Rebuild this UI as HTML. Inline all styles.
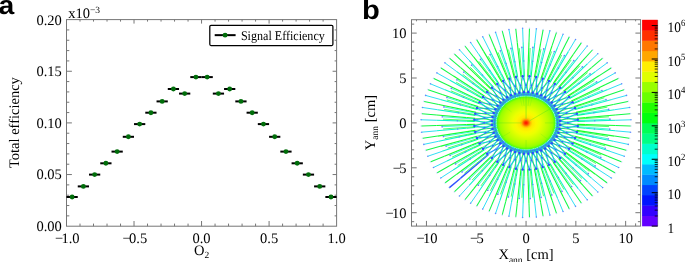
<!DOCTYPE html>
<html><head><meta charset="utf-8"><title>figure</title>
<style>html,body{margin:0;padding:0;background:#fff;}svg{display:block;will-change:transform;}text{text-rendering:geometricPrecision;}</style>
</head><body>
<svg width="685" height="262" viewBox="0 0 685 262">
<rect width="685" height="262" fill="#fff"/>
<g id="panel-a">
<rect x="66.5" y="19.6" width="270.1" height="206.6" fill="none" stroke="#767676" stroke-width="1"/>
<line x1="80" y1="226.2" x2="80" y2="223.6" stroke="#767676" stroke-width="1"/>
<line x1="80" y1="19.6" x2="80" y2="21.6" stroke="#767676" stroke-width="1"/>
<line x1="93.51" y1="226.2" x2="93.51" y2="223.6" stroke="#767676" stroke-width="1"/>
<line x1="93.51" y1="19.6" x2="93.51" y2="21.6" stroke="#767676" stroke-width="1"/>
<line x1="107.02" y1="226.2" x2="107.02" y2="223.6" stroke="#767676" stroke-width="1"/>
<line x1="107.02" y1="19.6" x2="107.02" y2="21.6" stroke="#767676" stroke-width="1"/>
<line x1="120.52" y1="226.2" x2="120.52" y2="223.6" stroke="#767676" stroke-width="1"/>
<line x1="120.52" y1="19.6" x2="120.52" y2="21.6" stroke="#767676" stroke-width="1"/>
<line x1="134.03" y1="226.2" x2="134.03" y2="221" stroke="#767676" stroke-width="1"/>
<line x1="134.03" y1="19.6" x2="134.03" y2="23.6" stroke="#767676" stroke-width="1"/>
<line x1="147.53" y1="226.2" x2="147.53" y2="223.6" stroke="#767676" stroke-width="1"/>
<line x1="147.53" y1="19.6" x2="147.53" y2="21.6" stroke="#767676" stroke-width="1"/>
<line x1="161.04" y1="226.2" x2="161.04" y2="223.6" stroke="#767676" stroke-width="1"/>
<line x1="161.04" y1="19.6" x2="161.04" y2="21.6" stroke="#767676" stroke-width="1"/>
<line x1="174.54" y1="226.2" x2="174.54" y2="223.6" stroke="#767676" stroke-width="1"/>
<line x1="174.54" y1="19.6" x2="174.54" y2="21.6" stroke="#767676" stroke-width="1"/>
<line x1="188.05" y1="226.2" x2="188.05" y2="223.6" stroke="#767676" stroke-width="1"/>
<line x1="188.05" y1="19.6" x2="188.05" y2="21.6" stroke="#767676" stroke-width="1"/>
<line x1="201.55" y1="226.2" x2="201.55" y2="221" stroke="#767676" stroke-width="1"/>
<line x1="201.55" y1="19.6" x2="201.55" y2="23.6" stroke="#767676" stroke-width="1"/>
<line x1="215.06" y1="226.2" x2="215.06" y2="223.6" stroke="#767676" stroke-width="1"/>
<line x1="215.06" y1="19.6" x2="215.06" y2="21.6" stroke="#767676" stroke-width="1"/>
<line x1="228.56" y1="226.2" x2="228.56" y2="223.6" stroke="#767676" stroke-width="1"/>
<line x1="228.56" y1="19.6" x2="228.56" y2="21.6" stroke="#767676" stroke-width="1"/>
<line x1="242.07" y1="226.2" x2="242.07" y2="223.6" stroke="#767676" stroke-width="1"/>
<line x1="242.07" y1="19.6" x2="242.07" y2="21.6" stroke="#767676" stroke-width="1"/>
<line x1="255.57" y1="226.2" x2="255.57" y2="223.6" stroke="#767676" stroke-width="1"/>
<line x1="255.57" y1="19.6" x2="255.57" y2="21.6" stroke="#767676" stroke-width="1"/>
<line x1="269.08" y1="226.2" x2="269.08" y2="221" stroke="#767676" stroke-width="1"/>
<line x1="269.08" y1="19.6" x2="269.08" y2="23.6" stroke="#767676" stroke-width="1"/>
<line x1="282.58" y1="226.2" x2="282.58" y2="223.6" stroke="#767676" stroke-width="1"/>
<line x1="282.58" y1="19.6" x2="282.58" y2="21.6" stroke="#767676" stroke-width="1"/>
<line x1="296.09" y1="226.2" x2="296.09" y2="223.6" stroke="#767676" stroke-width="1"/>
<line x1="296.09" y1="19.6" x2="296.09" y2="21.6" stroke="#767676" stroke-width="1"/>
<line x1="309.59" y1="226.2" x2="309.59" y2="223.6" stroke="#767676" stroke-width="1"/>
<line x1="309.59" y1="19.6" x2="309.59" y2="21.6" stroke="#767676" stroke-width="1"/>
<line x1="323.1" y1="226.2" x2="323.1" y2="223.6" stroke="#767676" stroke-width="1"/>
<line x1="323.1" y1="19.6" x2="323.1" y2="21.6" stroke="#767676" stroke-width="1"/>
<line x1="66.5" y1="215.87" x2="69.3" y2="215.87" stroke="#767676" stroke-width="1"/>
<line x1="336.6" y1="215.87" x2="334.6" y2="215.87" stroke="#767676" stroke-width="1"/>
<line x1="66.5" y1="205.54" x2="69.3" y2="205.54" stroke="#767676" stroke-width="1"/>
<line x1="336.6" y1="205.54" x2="334.6" y2="205.54" stroke="#767676" stroke-width="1"/>
<line x1="66.5" y1="195.21" x2="69.3" y2="195.21" stroke="#767676" stroke-width="1"/>
<line x1="336.6" y1="195.21" x2="334.6" y2="195.21" stroke="#767676" stroke-width="1"/>
<line x1="66.5" y1="184.88" x2="69.3" y2="184.88" stroke="#767676" stroke-width="1"/>
<line x1="336.6" y1="184.88" x2="334.6" y2="184.88" stroke="#767676" stroke-width="1"/>
<line x1="66.5" y1="174.55" x2="71.9" y2="174.55" stroke="#767676" stroke-width="1"/>
<line x1="336.6" y1="174.55" x2="332.6" y2="174.55" stroke="#767676" stroke-width="1"/>
<line x1="66.5" y1="164.22" x2="69.3" y2="164.22" stroke="#767676" stroke-width="1"/>
<line x1="336.6" y1="164.22" x2="334.6" y2="164.22" stroke="#767676" stroke-width="1"/>
<line x1="66.5" y1="153.89" x2="69.3" y2="153.89" stroke="#767676" stroke-width="1"/>
<line x1="336.6" y1="153.89" x2="334.6" y2="153.89" stroke="#767676" stroke-width="1"/>
<line x1="66.5" y1="143.56" x2="69.3" y2="143.56" stroke="#767676" stroke-width="1"/>
<line x1="336.6" y1="143.56" x2="334.6" y2="143.56" stroke="#767676" stroke-width="1"/>
<line x1="66.5" y1="133.23" x2="69.3" y2="133.23" stroke="#767676" stroke-width="1"/>
<line x1="336.6" y1="133.23" x2="334.6" y2="133.23" stroke="#767676" stroke-width="1"/>
<line x1="66.5" y1="122.9" x2="71.9" y2="122.9" stroke="#767676" stroke-width="1"/>
<line x1="336.6" y1="122.9" x2="332.6" y2="122.9" stroke="#767676" stroke-width="1"/>
<line x1="66.5" y1="112.57" x2="69.3" y2="112.57" stroke="#767676" stroke-width="1"/>
<line x1="336.6" y1="112.57" x2="334.6" y2="112.57" stroke="#767676" stroke-width="1"/>
<line x1="66.5" y1="102.24" x2="69.3" y2="102.24" stroke="#767676" stroke-width="1"/>
<line x1="336.6" y1="102.24" x2="334.6" y2="102.24" stroke="#767676" stroke-width="1"/>
<line x1="66.5" y1="91.91" x2="69.3" y2="91.91" stroke="#767676" stroke-width="1"/>
<line x1="336.6" y1="91.91" x2="334.6" y2="91.91" stroke="#767676" stroke-width="1"/>
<line x1="66.5" y1="81.58" x2="69.3" y2="81.58" stroke="#767676" stroke-width="1"/>
<line x1="336.6" y1="81.58" x2="334.6" y2="81.58" stroke="#767676" stroke-width="1"/>
<line x1="66.5" y1="71.25" x2="71.9" y2="71.25" stroke="#767676" stroke-width="1"/>
<line x1="336.6" y1="71.25" x2="332.6" y2="71.25" stroke="#767676" stroke-width="1"/>
<line x1="66.5" y1="60.92" x2="69.3" y2="60.92" stroke="#767676" stroke-width="1"/>
<line x1="336.6" y1="60.92" x2="334.6" y2="60.92" stroke="#767676" stroke-width="1"/>
<line x1="66.5" y1="50.59" x2="69.3" y2="50.59" stroke="#767676" stroke-width="1"/>
<line x1="336.6" y1="50.59" x2="334.6" y2="50.59" stroke="#767676" stroke-width="1"/>
<line x1="66.5" y1="40.26" x2="69.3" y2="40.26" stroke="#767676" stroke-width="1"/>
<line x1="336.6" y1="40.26" x2="334.6" y2="40.26" stroke="#767676" stroke-width="1"/>
<line x1="66.5" y1="29.93" x2="69.3" y2="29.93" stroke="#767676" stroke-width="1"/>
<line x1="336.6" y1="29.93" x2="334.6" y2="29.93" stroke="#767676" stroke-width="1"/>
<text transform="translate(67.3,243.4) scale(1.000,1)" font-size="14.5" text-anchor="middle" font-family='"Liberation Serif", serif'>−<tspan dx="-1.7">1.0</tspan></text>
<text transform="translate(134.83,243.4) scale(1.000,1)" font-size="14.5" text-anchor="middle" font-family='"Liberation Serif", serif'>−<tspan dx="-1.7">0.5</tspan></text>
<text transform="translate(201.55,243.4) scale(1.000,1)" font-size="14.5" text-anchor="middle" font-family='"Liberation Serif", serif'>0.0</text>
<text transform="translate(269.08,243.4) scale(1.000,1)" font-size="14.5" text-anchor="middle" font-family='"Liberation Serif", serif'>0.5</text>
<text transform="translate(336.6,243.4) scale(1.000,1)" font-size="14.5" text-anchor="middle" font-family='"Liberation Serif", serif'>1.0</text>
<text transform="translate(61.8,231.1) scale(1.000,1)" font-size="14.5" text-anchor="end" font-family='"Liberation Serif", serif'>0.00</text>
<text transform="translate(61.8,179.45) scale(1.000,1)" font-size="14.5" text-anchor="end" font-family='"Liberation Serif", serif'>0.05</text>
<text transform="translate(61.8,127.8) scale(1.000,1)" font-size="14.5" text-anchor="end" font-family='"Liberation Serif", serif'>0.10</text>
<text transform="translate(61.8,76.15) scale(1.000,1)" font-size="14.5" text-anchor="end" font-family='"Liberation Serif", serif'>0.15</text>
<text transform="translate(61.8,24.5) scale(1.000,1)" font-size="14.5" text-anchor="end" font-family='"Liberation Serif", serif'>0.20</text>
<text x="68.2" y="17.9" font-size="14.5" font-family='"Liberation Serif", serif'>x10<tspan font-size="9.5" dy="-5.2">−3</tspan></text>
<text x="201.6" y="254.5" font-size="14.5" text-anchor="middle" font-family='"Liberation Serif", serif'>O<tspan font-size="9.5" dy="3.6">2</tspan></text>
<text transform="translate(18.6,122.6) rotate(-90)" font-size="14.5" text-anchor="middle" font-family='"Liberation Serif", serif'>Total efficiency</text>
<line x1="66.5" y1="197" x2="77.75" y2="197" stroke="#000" stroke-width="2"/>
<line x1="77.75" y1="186.4" x2="89.01" y2="186.4" stroke="#000" stroke-width="2"/>
<line x1="89.01" y1="174.6" x2="100.26" y2="174.6" stroke="#000" stroke-width="2"/>
<line x1="100.26" y1="163.3" x2="111.52" y2="163.3" stroke="#000" stroke-width="2"/>
<line x1="111.52" y1="151.6" x2="122.77" y2="151.6" stroke="#000" stroke-width="2"/>
<line x1="122.77" y1="136.8" x2="134.03" y2="136.8" stroke="#000" stroke-width="2"/>
<line x1="134.03" y1="124.1" x2="145.28" y2="124.1" stroke="#000" stroke-width="2"/>
<line x1="145.28" y1="112.7" x2="156.53" y2="112.7" stroke="#000" stroke-width="2"/>
<line x1="156.53" y1="101.4" x2="167.79" y2="101.4" stroke="#000" stroke-width="2"/>
<line x1="167.79" y1="89" x2="179.04" y2="89" stroke="#000" stroke-width="2"/>
<line x1="179.04" y1="93.6" x2="190.3" y2="93.6" stroke="#000" stroke-width="2"/>
<line x1="190.3" y1="77.1" x2="201.55" y2="77.1" stroke="#000" stroke-width="2"/>
<line x1="201.55" y1="77.1" x2="212.8" y2="77.1" stroke="#000" stroke-width="2"/>
<line x1="212.8" y1="93.6" x2="224.06" y2="93.6" stroke="#000" stroke-width="2"/>
<line x1="224.06" y1="89" x2="235.31" y2="89" stroke="#000" stroke-width="2"/>
<line x1="235.31" y1="101.4" x2="246.57" y2="101.4" stroke="#000" stroke-width="2"/>
<line x1="246.57" y1="112.7" x2="257.82" y2="112.7" stroke="#000" stroke-width="2"/>
<line x1="257.82" y1="124.1" x2="269.08" y2="124.1" stroke="#000" stroke-width="2"/>
<line x1="269.07" y1="136.8" x2="280.33" y2="136.8" stroke="#000" stroke-width="2"/>
<line x1="280.33" y1="151.6" x2="291.58" y2="151.6" stroke="#000" stroke-width="2"/>
<line x1="291.58" y1="163.3" x2="302.84" y2="163.3" stroke="#000" stroke-width="2"/>
<line x1="302.84" y1="174.6" x2="314.09" y2="174.6" stroke="#000" stroke-width="2"/>
<line x1="314.09" y1="186.4" x2="325.35" y2="186.4" stroke="#000" stroke-width="2"/>
<line x1="325.35" y1="197" x2="336.6" y2="197" stroke="#000" stroke-width="2"/>
<circle cx="72.13" cy="197" r="2.45" fill="#006d0a"/>
<circle cx="83.38" cy="186.4" r="2.45" fill="#006d0a"/>
<circle cx="94.64" cy="174.6" r="2.45" fill="#006d0a"/>
<circle cx="105.89" cy="163.3" r="2.45" fill="#006d0a"/>
<circle cx="117.14" cy="151.6" r="2.45" fill="#006d0a"/>
<circle cx="128.4" cy="136.8" r="2.45" fill="#006d0a"/>
<circle cx="139.65" cy="124.1" r="2.45" fill="#006d0a"/>
<circle cx="150.91" cy="112.7" r="2.45" fill="#006d0a"/>
<circle cx="162.16" cy="101.4" r="2.45" fill="#006d0a"/>
<circle cx="173.41" cy="89" r="2.45" fill="#006d0a"/>
<circle cx="184.67" cy="93.6" r="2.45" fill="#006d0a"/>
<circle cx="195.92" cy="77.1" r="2.45" fill="#006d0a"/>
<circle cx="207.18" cy="77.1" r="2.45" fill="#006d0a"/>
<circle cx="218.43" cy="93.6" r="2.45" fill="#006d0a"/>
<circle cx="229.69" cy="89" r="2.45" fill="#006d0a"/>
<circle cx="240.94" cy="101.4" r="2.45" fill="#006d0a"/>
<circle cx="252.19" cy="112.7" r="2.45" fill="#006d0a"/>
<circle cx="263.45" cy="124.1" r="2.45" fill="#006d0a"/>
<circle cx="274.7" cy="136.8" r="2.45" fill="#006d0a"/>
<circle cx="285.96" cy="151.6" r="2.45" fill="#006d0a"/>
<circle cx="297.21" cy="163.3" r="2.45" fill="#006d0a"/>
<circle cx="308.46" cy="174.6" r="2.45" fill="#006d0a"/>
<circle cx="319.72" cy="186.4" r="2.45" fill="#006d0a"/>
<circle cx="330.97" cy="197" r="2.45" fill="#006d0a"/>
<rect x="209.8" y="25.3" width="123.1" height="20.2" rx="1.2" fill="#fff" stroke="#000" stroke-width="1.25"/>
<line x1="214.7" y1="35.15" x2="235.6" y2="35.15" stroke="#000" stroke-width="2"/>
<circle cx="225.1" cy="35.15" r="2.45" fill="#006d0a"/>
<text transform="translate(240.9,39.5) scale(0.915,1)" font-size="13.2" text-anchor="start" font-family='"Liberation Serif", serif'>Signal Efficiency</text>
<text transform="translate(-1.5,13.75) scale(1.090,1)" font-size="26" text-anchor="start" font-family='"Liberation Sans", sans-serif' font-weight="bold">a</text>
</g>
<g id="panel-b">
<defs>
<radialGradient id="disc" cx="0.5" cy="0.5" r="0.5">
<stop offset="0" stop-color="#ff1200"/>
<stop offset="0.04" stop-color="#ff2800"/>
<stop offset="0.08" stop-color="#ff5a00"/>
<stop offset="0.12" stop-color="#ff9000"/>
<stop offset="0.16" stop-color="#ffc400"/>
<stop offset="0.22" stop-color="#ffe800"/>
<stop offset="0.34" stop-color="#fbf800"/>
<stop offset="0.46" stop-color="#ecff00"/>
<stop offset="0.6" stop-color="#d4ff00"/>
<stop offset="0.76" stop-color="#b8ff00"/>
<stop offset="0.9" stop-color="#98ff00"/>
<stop offset="0.96" stop-color="#66ff08"/>
<stop offset="1.0" stop-color="#20ff48"/>
</radialGradient>
<clipPath id="bclip"><rect x="411.5" y="19.7" width="229.1" height="206.4"/></clipPath>
</defs>
<g clip-path="url(#bclip)" stroke-linecap="butt">
<line x1="560.14" y1="120.89" x2="577.73" y2="125.95" stroke="#22b8f4" stroke-width="1.1"/>
<line x1="560.14" y1="120.89" x2="576.85" y2="113.79" stroke="#2a9cff" stroke-width="1.1"/>
<line x1="559.56" y1="116.89" x2="577.73" y2="119.85" stroke="#22b8f4" stroke-width="1.1"/>
<line x1="559.56" y1="116.89" x2="575.09" y2="107.89" stroke="#2a9cff" stroke-width="1.1"/>
<line x1="558.4" y1="113" x2="576.85" y2="113.79" stroke="#22b8f4" stroke-width="1.1"/>
<line x1="558.4" y1="113" x2="572.5" y2="102.25" stroke="#2a9cff" stroke-width="1.1"/>
<line x1="556.69" y1="109.28" x2="575.09" y2="107.89" stroke="#22b8f4" stroke-width="1.1"/>
<line x1="556.69" y1="109.28" x2="569.11" y2="96.96" stroke="#2a9cff" stroke-width="1.1"/>
<line x1="554.46" y1="105.79" x2="572.5" y2="102.25" stroke="#22b8f4" stroke-width="1.1"/>
<line x1="554.46" y1="105.79" x2="564.99" y2="92.11" stroke="#2a9cff" stroke-width="1.1"/>
<line x1="551.73" y1="102.59" x2="569.11" y2="96.96" stroke="#22b8f4" stroke-width="1.1"/>
<line x1="551.73" y1="102.59" x2="560.2" y2="87.79" stroke="#2a9cff" stroke-width="1.1"/>
<line x1="548.58" y1="99.74" x2="564.99" y2="92.11" stroke="#22b8f4" stroke-width="1.1"/>
<line x1="548.58" y1="99.74" x2="554.82" y2="84.07" stroke="#2a9cff" stroke-width="1.1"/>
<line x1="545.03" y1="97.29" x2="560.2" y2="87.79" stroke="#22b8f4" stroke-width="1.1"/>
<line x1="545.03" y1="97.29" x2="548.96" y2="81.02" stroke="#2a9cff" stroke-width="1.1"/>
<line x1="541.16" y1="95.28" x2="554.82" y2="84.07" stroke="#22b8f4" stroke-width="1.1"/>
<line x1="541.16" y1="95.28" x2="542.7" y2="78.68" stroke="#2a9cff" stroke-width="1.1"/>
<line x1="537.03" y1="93.73" x2="548.96" y2="81.02" stroke="#22b8f4" stroke-width="1.1"/>
<line x1="537.03" y1="93.73" x2="536.15" y2="77.1" stroke="#2a9cff" stroke-width="1.1"/>
<line x1="532.71" y1="92.69" x2="542.7" y2="78.68" stroke="#22b8f4" stroke-width="1.1"/>
<line x1="532.71" y1="92.69" x2="529.44" y2="76.3" stroke="#2a9cff" stroke-width="1.1"/>
<line x1="528.28" y1="92.16" x2="536.15" y2="77.1" stroke="#22b8f4" stroke-width="1.1"/>
<line x1="528.28" y1="92.16" x2="522.66" y2="76.3" stroke="#2a9cff" stroke-width="1.1"/>
<line x1="523.82" y1="92.16" x2="529.44" y2="76.3" stroke="#22b8f4" stroke-width="1.1"/>
<line x1="523.82" y1="92.16" x2="515.95" y2="77.1" stroke="#2a9cff" stroke-width="1.1"/>
<line x1="519.39" y1="92.69" x2="522.66" y2="76.3" stroke="#22b8f4" stroke-width="1.1"/>
<line x1="519.39" y1="92.69" x2="509.4" y2="78.68" stroke="#2a9cff" stroke-width="1.1"/>
<line x1="515.07" y1="93.73" x2="515.95" y2="77.1" stroke="#22b8f4" stroke-width="1.1"/>
<line x1="515.07" y1="93.73" x2="503.14" y2="81.02" stroke="#2a9cff" stroke-width="1.1"/>
<line x1="510.94" y1="95.28" x2="509.4" y2="78.68" stroke="#22b8f4" stroke-width="1.1"/>
<line x1="510.94" y1="95.28" x2="497.28" y2="84.07" stroke="#2a9cff" stroke-width="1.1"/>
<line x1="507.07" y1="97.29" x2="503.14" y2="81.02" stroke="#22b8f4" stroke-width="1.1"/>
<line x1="507.07" y1="97.29" x2="491.9" y2="87.79" stroke="#2a9cff" stroke-width="1.1"/>
<line x1="503.52" y1="99.74" x2="497.28" y2="84.07" stroke="#22b8f4" stroke-width="1.1"/>
<line x1="503.52" y1="99.74" x2="487.11" y2="92.11" stroke="#2a9cff" stroke-width="1.1"/>
<line x1="500.37" y1="102.59" x2="491.9" y2="87.79" stroke="#22b8f4" stroke-width="1.1"/>
<line x1="500.37" y1="102.59" x2="482.99" y2="96.96" stroke="#2a9cff" stroke-width="1.1"/>
<line x1="497.64" y1="105.79" x2="487.11" y2="92.11" stroke="#22b8f4" stroke-width="1.1"/>
<line x1="497.64" y1="105.79" x2="479.6" y2="102.25" stroke="#2a9cff" stroke-width="1.1"/>
<line x1="495.41" y1="109.28" x2="482.99" y2="96.96" stroke="#22b8f4" stroke-width="1.1"/>
<line x1="495.41" y1="109.28" x2="477.01" y2="107.89" stroke="#2a9cff" stroke-width="1.1"/>
<line x1="493.7" y1="113" x2="479.6" y2="102.25" stroke="#22b8f4" stroke-width="1.1"/>
<line x1="493.7" y1="113" x2="475.25" y2="113.79" stroke="#2a9cff" stroke-width="1.1"/>
<line x1="492.54" y1="116.89" x2="477.01" y2="107.89" stroke="#22b8f4" stroke-width="1.1"/>
<line x1="492.54" y1="116.89" x2="474.37" y2="119.85" stroke="#2a9cff" stroke-width="1.1"/>
<line x1="491.96" y1="120.89" x2="475.25" y2="113.79" stroke="#22b8f4" stroke-width="1.1"/>
<line x1="491.96" y1="120.89" x2="474.37" y2="125.95" stroke="#2a9cff" stroke-width="1.1"/>
<line x1="491.96" y1="124.91" x2="474.37" y2="119.85" stroke="#22b8f4" stroke-width="1.1"/>
<line x1="491.96" y1="124.91" x2="475.25" y2="132.01" stroke="#2a9cff" stroke-width="1.1"/>
<line x1="492.54" y1="128.91" x2="474.37" y2="125.95" stroke="#22b8f4" stroke-width="1.1"/>
<line x1="492.54" y1="128.91" x2="477.01" y2="137.91" stroke="#2a9cff" stroke-width="1.1"/>
<line x1="493.7" y1="132.8" x2="475.25" y2="132.01" stroke="#22b8f4" stroke-width="1.1"/>
<line x1="493.7" y1="132.8" x2="479.6" y2="143.55" stroke="#2a9cff" stroke-width="1.1"/>
<line x1="495.41" y1="136.52" x2="477.01" y2="137.91" stroke="#22b8f4" stroke-width="1.1"/>
<line x1="495.41" y1="136.52" x2="482.99" y2="148.84" stroke="#2a9cff" stroke-width="1.1"/>
<line x1="497.64" y1="140.01" x2="479.6" y2="143.55" stroke="#22b8f4" stroke-width="1.1"/>
<line x1="497.64" y1="140.01" x2="487.11" y2="153.69" stroke="#2a9cff" stroke-width="1.1"/>
<line x1="500.37" y1="143.21" x2="482.99" y2="148.84" stroke="#22b8f4" stroke-width="1.1"/>
<line x1="500.37" y1="143.21" x2="491.9" y2="158.01" stroke="#2a9cff" stroke-width="1.1"/>
<line x1="503.52" y1="146.06" x2="487.11" y2="153.69" stroke="#22b8f4" stroke-width="1.1"/>
<line x1="503.52" y1="146.06" x2="497.28" y2="161.73" stroke="#2a9cff" stroke-width="1.1"/>
<line x1="507.07" y1="148.51" x2="491.9" y2="158.01" stroke="#22b8f4" stroke-width="1.1"/>
<line x1="507.07" y1="148.51" x2="503.14" y2="164.78" stroke="#2a9cff" stroke-width="1.1"/>
<line x1="510.94" y1="150.52" x2="497.28" y2="161.73" stroke="#22b8f4" stroke-width="1.1"/>
<line x1="510.94" y1="150.52" x2="509.4" y2="167.12" stroke="#2a9cff" stroke-width="1.1"/>
<line x1="515.07" y1="152.07" x2="503.14" y2="164.78" stroke="#22b8f4" stroke-width="1.1"/>
<line x1="515.07" y1="152.07" x2="515.95" y2="168.7" stroke="#2a9cff" stroke-width="1.1"/>
<line x1="519.39" y1="153.11" x2="509.4" y2="167.12" stroke="#22b8f4" stroke-width="1.1"/>
<line x1="519.39" y1="153.11" x2="522.66" y2="169.5" stroke="#2a9cff" stroke-width="1.1"/>
<line x1="523.82" y1="153.64" x2="515.95" y2="168.7" stroke="#22b8f4" stroke-width="1.1"/>
<line x1="523.82" y1="153.64" x2="529.44" y2="169.5" stroke="#2a9cff" stroke-width="1.1"/>
<line x1="528.28" y1="153.64" x2="522.66" y2="169.5" stroke="#22b8f4" stroke-width="1.1"/>
<line x1="528.28" y1="153.64" x2="536.15" y2="168.7" stroke="#2a9cff" stroke-width="1.1"/>
<line x1="532.71" y1="153.11" x2="529.44" y2="169.5" stroke="#22b8f4" stroke-width="1.1"/>
<line x1="532.71" y1="153.11" x2="542.7" y2="167.12" stroke="#2a9cff" stroke-width="1.1"/>
<line x1="537.03" y1="152.07" x2="536.15" y2="168.7" stroke="#22b8f4" stroke-width="1.1"/>
<line x1="537.03" y1="152.07" x2="548.96" y2="164.78" stroke="#2a9cff" stroke-width="1.1"/>
<line x1="541.16" y1="150.52" x2="542.7" y2="167.12" stroke="#22b8f4" stroke-width="1.1"/>
<line x1="541.16" y1="150.52" x2="554.82" y2="161.73" stroke="#2a9cff" stroke-width="1.1"/>
<line x1="545.03" y1="148.51" x2="548.96" y2="164.78" stroke="#22b8f4" stroke-width="1.1"/>
<line x1="545.03" y1="148.51" x2="560.2" y2="158.01" stroke="#2a9cff" stroke-width="1.1"/>
<line x1="548.58" y1="146.06" x2="554.82" y2="161.73" stroke="#22b8f4" stroke-width="1.1"/>
<line x1="548.58" y1="146.06" x2="564.99" y2="153.69" stroke="#2a9cff" stroke-width="1.1"/>
<line x1="551.73" y1="143.21" x2="560.2" y2="158.01" stroke="#22b8f4" stroke-width="1.1"/>
<line x1="551.73" y1="143.21" x2="569.11" y2="148.84" stroke="#2a9cff" stroke-width="1.1"/>
<line x1="554.46" y1="140.01" x2="564.99" y2="153.69" stroke="#22b8f4" stroke-width="1.1"/>
<line x1="554.46" y1="140.01" x2="572.5" y2="143.55" stroke="#2a9cff" stroke-width="1.1"/>
<line x1="556.69" y1="136.52" x2="569.11" y2="148.84" stroke="#22b8f4" stroke-width="1.1"/>
<line x1="556.69" y1="136.52" x2="575.09" y2="137.91" stroke="#2a9cff" stroke-width="1.1"/>
<line x1="558.4" y1="132.8" x2="572.5" y2="143.55" stroke="#22b8f4" stroke-width="1.1"/>
<line x1="558.4" y1="132.8" x2="576.85" y2="132.01" stroke="#2a9cff" stroke-width="1.1"/>
<line x1="559.56" y1="128.91" x2="575.09" y2="137.91" stroke="#22b8f4" stroke-width="1.1"/>
<line x1="559.56" y1="128.91" x2="577.73" y2="125.95" stroke="#2a9cff" stroke-width="1.1"/>
<line x1="560.14" y1="124.91" x2="576.85" y2="132.01" stroke="#22b8f4" stroke-width="1.1"/>
<line x1="560.14" y1="124.91" x2="577.73" y2="119.85" stroke="#2a9cff" stroke-width="1.1"/>
<ellipse cx="526.05" cy="122.9" rx="31.87" ry="28.74" fill="none" stroke="#28a8fa" stroke-width="3.8" opacity="0.9"/>
<line x1="555.42" y1="122.03" x2="577.32" y2="121.39" stroke="#00ff90" stroke-width="0.8" opacity="0.8"/>
<line x1="577.32" y1="121.39" x2="585.78" y2="121.14" stroke="#00ff90" stroke-width="1.05"/>
<line x1="585.78" y1="121.14" x2="615.64" y2="120.26" stroke="#10f4cc" stroke-width="1.05"/>
<line x1="615.64" y1="120.26" x2="630.57" y2="119.81" stroke="#26dcf4" stroke-width="0.95"/>
<circle cx="630.97" cy="119.8" r="0.8" fill="#4a78ff" opacity="0.85"/>
<line x1="555.29" y1="120.3" x2="577.1" y2="118.37" stroke="#1cff1c" stroke-width="0.8" opacity="0.8"/>
<line x1="577.1" y1="118.37" x2="585.52" y2="117.62" stroke="#1cff1c" stroke-width="1.15"/>
<line x1="585.52" y1="117.62" x2="615.26" y2="114.98" stroke="#16ff34" stroke-width="1.15"/>
<line x1="615.26" y1="114.98" x2="630.13" y2="113.66" stroke="#12f848" stroke-width="1.05"/>
<circle cx="630.52" cy="113.62" r="0.8" fill="#4a78ff" opacity="0.25"/>
<line x1="555.04" y1="118.58" x2="576.66" y2="115.37" stroke="#00ff90" stroke-width="0.8" opacity="0.8"/>
<line x1="576.66" y1="115.37" x2="585.01" y2="114.12" stroke="#00ff90" stroke-width="1.05"/>
<line x1="585.01" y1="114.12" x2="614.49" y2="109.73" stroke="#10f4cc" stroke-width="1.05"/>
<line x1="614.49" y1="109.73" x2="629.23" y2="107.54" stroke="#26dcf4" stroke-width="0.95"/>
<circle cx="629.63" cy="107.48" r="0.8" fill="#4a78ff" opacity="0.85"/>
<line x1="554.66" y1="116.88" x2="576" y2="112.4" stroke="#1cff1c" stroke-width="0.8" opacity="0.8"/>
<line x1="576" y1="112.4" x2="584.25" y2="110.67" stroke="#1cff1c" stroke-width="1.15"/>
<line x1="584.25" y1="110.67" x2="613.35" y2="104.55" stroke="#16ff34" stroke-width="1.15"/>
<line x1="613.35" y1="104.55" x2="627.9" y2="101.49" stroke="#12f848" stroke-width="1.05"/>
<circle cx="628.29" cy="101.41" r="0.8" fill="#4a78ff" opacity="0.25"/>
<line x1="554.17" y1="115.21" x2="575.14" y2="109.48" stroke="#00ff90" stroke-width="0.8" opacity="0.8"/>
<line x1="575.14" y1="109.48" x2="583.24" y2="107.26" stroke="#00ff90" stroke-width="1.05"/>
<line x1="583.24" y1="107.26" x2="611.83" y2="99.44" stroke="#10f4cc" stroke-width="1.05"/>
<line x1="611.83" y1="99.44" x2="626.13" y2="95.53" stroke="#26dcf4" stroke-width="0.95"/>
<circle cx="626.51" cy="95.42" r="0.8" fill="#4a78ff" opacity="0.85"/>
<line x1="553.55" y1="113.57" x2="574.06" y2="106.61" stroke="#1cff1c" stroke-width="0.8" opacity="0.8"/>
<line x1="574.06" y1="106.61" x2="581.98" y2="103.92" stroke="#1cff1c" stroke-width="1.15"/>
<line x1="581.98" y1="103.92" x2="609.94" y2="94.43" stroke="#16ff34" stroke-width="1.15"/>
<line x1="609.94" y1="94.43" x2="623.93" y2="89.69" stroke="#12f848" stroke-width="1.05"/>
<circle cx="624.3" cy="89.56" r="0.8" fill="#4a78ff" opacity="0.25"/>
<line x1="552.81" y1="111.97" x2="572.77" y2="103.81" stroke="#00ff90" stroke-width="0.8" opacity="0.8"/>
<line x1="572.77" y1="103.81" x2="580.48" y2="100.66" stroke="#00ff90" stroke-width="1.05"/>
<line x1="580.48" y1="100.66" x2="607.7" y2="89.55" stroke="#10f4cc" stroke-width="1.05"/>
<line x1="607.7" y1="89.55" x2="621.31" y2="83.99" stroke="#26dcf4" stroke-width="0.95"/>
<circle cx="621.67" cy="83.84" r="0.8" fill="#4a78ff" opacity="0.85"/>
<line x1="551.96" y1="110.41" x2="571.29" y2="101.1" stroke="#1cff1c" stroke-width="0.8" opacity="0.8"/>
<line x1="571.29" y1="101.1" x2="578.75" y2="97.5" stroke="#1cff1c" stroke-width="1.15"/>
<line x1="578.75" y1="97.5" x2="605.11" y2="84.8" stroke="#16ff34" stroke-width="1.15"/>
<line x1="605.11" y1="84.8" x2="618.28" y2="78.45" stroke="#12f848" stroke-width="1.05"/>
<circle cx="618.63" cy="78.28" r="0.8" fill="#4a78ff" opacity="0.25"/>
<line x1="551" y1="108.91" x2="569.61" y2="98.48" stroke="#00ff90" stroke-width="0.8" opacity="0.8"/>
<line x1="569.61" y1="98.48" x2="576.8" y2="94.45" stroke="#00ff90" stroke-width="1.05"/>
<line x1="576.8" y1="94.45" x2="602.17" y2="80.22" stroke="#10f4cc" stroke-width="1.05"/>
<line x1="602.17" y1="80.22" x2="614.86" y2="73.11" stroke="#26dcf4" stroke-width="0.95"/>
<circle cx="615.2" cy="72.92" r="0.8" fill="#4a78ff" opacity="0.85"/>
<line x1="549.93" y1="107.47" x2="567.74" y2="95.96" stroke="#1cff1c" stroke-width="0.8" opacity="0.8"/>
<line x1="567.74" y1="95.96" x2="574.63" y2="91.52" stroke="#1cff1c" stroke-width="1.15"/>
<line x1="574.63" y1="91.52" x2="598.91" y2="75.82" stroke="#16ff34" stroke-width="1.15"/>
<line x1="598.91" y1="75.82" x2="611.06" y2="67.98" stroke="#12f848" stroke-width="1.05"/>
<circle cx="611.38" cy="67.77" r="0.8" fill="#4a78ff" opacity="0.25"/>
<line x1="548.76" y1="106.09" x2="565.7" y2="93.56" stroke="#00ff90" stroke-width="0.8" opacity="0.8"/>
<line x1="565.7" y1="93.56" x2="572.25" y2="88.72" stroke="#00ff90" stroke-width="1.05"/>
<line x1="572.25" y1="88.72" x2="595.34" y2="71.63" stroke="#10f4cc" stroke-width="1.05"/>
<line x1="595.34" y1="71.63" x2="606.89" y2="63.08" stroke="#26dcf4" stroke-width="0.95"/>
<circle cx="607.2" cy="62.86" r="0.8" fill="#4a78ff" opacity="0.85"/>
<line x1="547.49" y1="104.79" x2="563.49" y2="91.29" stroke="#1cff1c" stroke-width="0.8" opacity="0.8"/>
<line x1="563.49" y1="91.29" x2="569.67" y2="86.07" stroke="#1cff1c" stroke-width="1.15"/>
<line x1="569.67" y1="86.07" x2="591.48" y2="67.65" stroke="#16ff34" stroke-width="1.15"/>
<line x1="591.48" y1="67.65" x2="602.38" y2="58.44" stroke="#12f848" stroke-width="1.05"/>
<circle cx="602.67" cy="58.2" r="0.8" fill="#4a78ff" opacity="0.25"/>
<line x1="546.14" y1="103.57" x2="561.11" y2="89.15" stroke="#00ff90" stroke-width="0.8" opacity="0.8"/>
<line x1="561.11" y1="89.15" x2="566.9" y2="83.57" stroke="#00ff90" stroke-width="1.05"/>
<line x1="566.9" y1="83.57" x2="587.33" y2="63.91" stroke="#10f4cc" stroke-width="1.05"/>
<line x1="587.33" y1="63.91" x2="597.54" y2="54.08" stroke="#26dcf4" stroke-width="0.95"/>
<circle cx="597.81" cy="53.82" r="0.8" fill="#4a78ff" opacity="0.85"/>
<line x1="544.69" y1="102.42" x2="558.59" y2="87.15" stroke="#1cff1c" stroke-width="0.8" opacity="0.8"/>
<line x1="558.59" y1="87.15" x2="563.96" y2="81.25" stroke="#1cff1c" stroke-width="1.15"/>
<line x1="563.96" y1="81.25" x2="582.92" y2="60.43" stroke="#16ff34" stroke-width="1.15"/>
<line x1="582.92" y1="60.43" x2="592.39" y2="50.01" stroke="#12f848" stroke-width="1.05"/>
<circle cx="592.65" cy="49.74" r="0.8" fill="#4a78ff" opacity="0.25"/>
<line x1="543.16" y1="101.37" x2="555.93" y2="85.31" stroke="#00ff90" stroke-width="0.8" opacity="0.8"/>
<line x1="555.93" y1="85.31" x2="560.86" y2="79.1" stroke="#00ff90" stroke-width="1.05"/>
<line x1="560.86" y1="79.1" x2="578.26" y2="57.21" stroke="#10f4cc" stroke-width="1.05"/>
<line x1="578.26" y1="57.21" x2="586.97" y2="46.26" stroke="#26dcf4" stroke-width="0.95"/>
<circle cx="587.2" cy="45.96" r="0.8" fill="#4a78ff" opacity="0.85"/>
<line x1="541.57" y1="100.4" x2="553.14" y2="83.63" stroke="#1cff1c" stroke-width="0.8" opacity="0.8"/>
<line x1="553.14" y1="83.63" x2="557.61" y2="77.14" stroke="#1cff1c" stroke-width="1.15"/>
<line x1="557.61" y1="77.14" x2="573.39" y2="54.27" stroke="#16ff34" stroke-width="1.15"/>
<line x1="573.39" y1="54.27" x2="581.28" y2="42.83" stroke="#12f848" stroke-width="1.05"/>
<circle cx="581.49" cy="42.52" r="0.8" fill="#4a78ff" opacity="0.25"/>
<line x1="539.9" y1="99.54" x2="550.23" y2="82.11" stroke="#00ff90" stroke-width="0.8" opacity="0.8"/>
<line x1="550.23" y1="82.11" x2="554.22" y2="75.38" stroke="#00ff90" stroke-width="1.05"/>
<line x1="554.22" y1="75.38" x2="568.31" y2="51.62" stroke="#10f4cc" stroke-width="1.05"/>
<line x1="568.31" y1="51.62" x2="575.35" y2="39.74" stroke="#26dcf4" stroke-width="0.95"/>
<circle cx="575.54" cy="39.43" r="0.8" fill="#4a78ff" opacity="0.85"/>
<line x1="538.18" y1="98.77" x2="547.22" y2="80.78" stroke="#1cff1c" stroke-width="0.8" opacity="0.8"/>
<line x1="547.22" y1="80.78" x2="550.71" y2="73.82" stroke="#1cff1c" stroke-width="1.15"/>
<line x1="550.71" y1="73.82" x2="563.05" y2="49.28" stroke="#16ff34" stroke-width="1.15"/>
<line x1="563.05" y1="49.28" x2="569.21" y2="37.01" stroke="#12f848" stroke-width="1.05"/>
<circle cx="569.38" cy="36.69" r="0.8" fill="#4a78ff" opacity="0.25"/>
<line x1="536.4" y1="98.11" x2="544.12" y2="79.62" stroke="#00ff90" stroke-width="0.8" opacity="0.8"/>
<line x1="544.12" y1="79.62" x2="547.1" y2="72.47" stroke="#00ff90" stroke-width="1.05"/>
<line x1="547.1" y1="72.47" x2="557.63" y2="47.26" stroke="#10f4cc" stroke-width="1.05"/>
<line x1="557.63" y1="47.26" x2="562.89" y2="34.65" stroke="#26dcf4" stroke-width="0.95"/>
<circle cx="563.03" cy="34.32" r="0.8" fill="#4a78ff" opacity="0.85"/>
<line x1="534.58" y1="97.55" x2="540.94" y2="78.64" stroke="#1cff1c" stroke-width="0.8" opacity="0.8"/>
<line x1="540.94" y1="78.64" x2="543.4" y2="71.34" stroke="#1cff1c" stroke-width="1.15"/>
<line x1="543.4" y1="71.34" x2="552.07" y2="45.56" stroke="#16ff34" stroke-width="1.15"/>
<line x1="552.07" y1="45.56" x2="556.41" y2="32.67" stroke="#12f848" stroke-width="1.05"/>
<circle cx="556.52" cy="32.33" r="0.8" fill="#4a78ff" opacity="0.25"/>
<line x1="532.72" y1="97.1" x2="537.7" y2="77.86" stroke="#00ff90" stroke-width="0.8" opacity="0.8"/>
<line x1="537.7" y1="77.86" x2="539.62" y2="70.43" stroke="#00ff90" stroke-width="1.05"/>
<line x1="539.62" y1="70.43" x2="546.41" y2="44.19" stroke="#10f4cc" stroke-width="1.05"/>
<line x1="546.41" y1="44.19" x2="549.8" y2="31.07" stroke="#26dcf4" stroke-width="0.95"/>
<circle cx="549.89" cy="30.72" r="0.8" fill="#4a78ff" opacity="0.85"/>
<line x1="530.84" y1="96.76" x2="534.41" y2="77.27" stroke="#1cff1c" stroke-width="0.8" opacity="0.8"/>
<line x1="534.41" y1="77.27" x2="535.78" y2="69.74" stroke="#1cff1c" stroke-width="1.15"/>
<line x1="535.78" y1="69.74" x2="540.65" y2="43.16" stroke="#16ff34" stroke-width="1.15"/>
<line x1="540.65" y1="43.16" x2="543.09" y2="29.87" stroke="#12f848" stroke-width="1.05"/>
<circle cx="543.15" cy="29.51" r="0.8" fill="#4a78ff" opacity="0.25"/>
<line x1="528.93" y1="96.54" x2="531.08" y2="76.88" stroke="#00ff90" stroke-width="0.8" opacity="0.8"/>
<line x1="531.08" y1="76.88" x2="531.91" y2="69.28" stroke="#00ff90" stroke-width="1.05"/>
<line x1="531.91" y1="69.28" x2="534.84" y2="42.47" stroke="#10f4cc" stroke-width="1.05"/>
<line x1="534.84" y1="42.47" x2="536.3" y2="29.06" stroke="#26dcf4" stroke-width="0.95"/>
<circle cx="536.34" cy="28.71" r="0.8" fill="#4a78ff" opacity="0.85"/>
<line x1="527.01" y1="96.42" x2="527.73" y2="76.68" stroke="#1cff1c" stroke-width="0.8" opacity="0.8"/>
<line x1="527.73" y1="76.68" x2="528.01" y2="69.05" stroke="#1cff1c" stroke-width="1.15"/>
<line x1="528.01" y1="69.05" x2="528.98" y2="42.12" stroke="#16ff34" stroke-width="1.15"/>
<line x1="528.98" y1="42.12" x2="529.47" y2="28.66" stroke="#12f848" stroke-width="1.05"/>
<circle cx="529.48" cy="28.3" r="0.8" fill="#4a78ff" opacity="0.25"/>
<line x1="525.09" y1="96.42" x2="524.37" y2="76.68" stroke="#00ff90" stroke-width="0.8" opacity="0.8"/>
<line x1="524.37" y1="76.68" x2="524.09" y2="69.05" stroke="#00ff90" stroke-width="1.05"/>
<line x1="524.09" y1="69.05" x2="523.12" y2="42.12" stroke="#10f4cc" stroke-width="1.05"/>
<line x1="523.12" y1="42.12" x2="522.63" y2="28.66" stroke="#26dcf4" stroke-width="0.95"/>
<circle cx="522.62" cy="28.3" r="0.8" fill="#4a78ff" opacity="0.85"/>
<line x1="523.17" y1="96.54" x2="521.02" y2="76.88" stroke="#1cff1c" stroke-width="0.8" opacity="0.8"/>
<line x1="521.02" y1="76.88" x2="520.19" y2="69.28" stroke="#1cff1c" stroke-width="1.15"/>
<line x1="520.19" y1="69.28" x2="517.26" y2="42.47" stroke="#16ff34" stroke-width="1.15"/>
<line x1="517.26" y1="42.47" x2="515.8" y2="29.06" stroke="#12f848" stroke-width="1.05"/>
<circle cx="515.76" cy="28.71" r="0.8" fill="#4a78ff" opacity="0.25"/>
<line x1="521.26" y1="96.76" x2="517.69" y2="77.27" stroke="#00ff90" stroke-width="0.8" opacity="0.8"/>
<line x1="517.69" y1="77.27" x2="516.32" y2="69.74" stroke="#00ff90" stroke-width="1.05"/>
<line x1="516.32" y1="69.74" x2="511.45" y2="43.16" stroke="#10f4cc" stroke-width="1.05"/>
<line x1="511.45" y1="43.16" x2="509.01" y2="29.87" stroke="#26dcf4" stroke-width="0.95"/>
<circle cx="508.95" cy="29.51" r="0.8" fill="#4a78ff" opacity="0.85"/>
<line x1="519.38" y1="97.1" x2="514.4" y2="77.86" stroke="#1cff1c" stroke-width="0.8" opacity="0.8"/>
<line x1="514.4" y1="77.86" x2="512.48" y2="70.43" stroke="#1cff1c" stroke-width="1.15"/>
<line x1="512.48" y1="70.43" x2="505.69" y2="44.19" stroke="#16ff34" stroke-width="1.15"/>
<line x1="505.69" y1="44.19" x2="502.3" y2="31.07" stroke="#12f848" stroke-width="1.05"/>
<circle cx="502.21" cy="30.72" r="0.8" fill="#4a78ff" opacity="0.25"/>
<line x1="517.52" y1="97.55" x2="511.16" y2="78.64" stroke="#00ff90" stroke-width="0.8" opacity="0.8"/>
<line x1="511.16" y1="78.64" x2="508.7" y2="71.34" stroke="#00ff90" stroke-width="1.05"/>
<line x1="508.7" y1="71.34" x2="500.03" y2="45.56" stroke="#10f4cc" stroke-width="1.05"/>
<line x1="500.03" y1="45.56" x2="495.69" y2="32.67" stroke="#26dcf4" stroke-width="0.95"/>
<circle cx="495.58" cy="32.33" r="0.8" fill="#4a78ff" opacity="0.85"/>
<line x1="515.7" y1="98.11" x2="507.98" y2="79.62" stroke="#1cff1c" stroke-width="0.8" opacity="0.8"/>
<line x1="507.98" y1="79.62" x2="505" y2="72.47" stroke="#1cff1c" stroke-width="1.15"/>
<line x1="505" y1="72.47" x2="494.47" y2="47.26" stroke="#16ff34" stroke-width="1.15"/>
<line x1="494.47" y1="47.26" x2="489.21" y2="34.65" stroke="#12f848" stroke-width="1.05"/>
<circle cx="489.07" cy="34.32" r="0.8" fill="#4a78ff" opacity="0.25"/>
<line x1="513.92" y1="98.77" x2="504.88" y2="80.78" stroke="#00ff90" stroke-width="0.8" opacity="0.8"/>
<line x1="504.88" y1="80.78" x2="501.39" y2="73.82" stroke="#00ff90" stroke-width="1.05"/>
<line x1="501.39" y1="73.82" x2="489.05" y2="49.28" stroke="#10f4cc" stroke-width="1.05"/>
<line x1="489.05" y1="49.28" x2="482.89" y2="37.01" stroke="#26dcf4" stroke-width="0.95"/>
<circle cx="482.72" cy="36.69" r="0.8" fill="#4a78ff" opacity="0.85"/>
<line x1="512.2" y1="99.54" x2="501.87" y2="82.11" stroke="#1cff1c" stroke-width="0.8" opacity="0.8"/>
<line x1="501.87" y1="82.11" x2="497.88" y2="75.38" stroke="#1cff1c" stroke-width="1.15"/>
<line x1="497.88" y1="75.38" x2="483.79" y2="51.62" stroke="#16ff34" stroke-width="1.15"/>
<line x1="483.79" y1="51.62" x2="476.75" y2="39.74" stroke="#12f848" stroke-width="1.05"/>
<circle cx="476.56" cy="39.43" r="0.8" fill="#4a78ff" opacity="0.25"/>
<line x1="510.53" y1="100.4" x2="498.96" y2="83.63" stroke="#00ff90" stroke-width="0.8" opacity="0.8"/>
<line x1="498.96" y1="83.63" x2="494.49" y2="77.14" stroke="#00ff90" stroke-width="1.05"/>
<line x1="494.49" y1="77.14" x2="478.71" y2="54.27" stroke="#10f4cc" stroke-width="1.05"/>
<line x1="478.71" y1="54.27" x2="470.82" y2="42.83" stroke="#26dcf4" stroke-width="0.95"/>
<circle cx="470.61" cy="42.52" r="0.8" fill="#4a78ff" opacity="0.85"/>
<line x1="508.94" y1="101.37" x2="496.17" y2="85.31" stroke="#1cff1c" stroke-width="0.8" opacity="0.8"/>
<line x1="496.17" y1="85.31" x2="491.24" y2="79.1" stroke="#1cff1c" stroke-width="1.15"/>
<line x1="491.24" y1="79.1" x2="473.84" y2="57.21" stroke="#16ff34" stroke-width="1.15"/>
<line x1="473.84" y1="57.21" x2="465.13" y2="46.26" stroke="#12f848" stroke-width="1.05"/>
<circle cx="464.9" cy="45.96" r="0.8" fill="#4a78ff" opacity="0.25"/>
<line x1="507.41" y1="102.42" x2="493.51" y2="87.15" stroke="#00ff90" stroke-width="0.8" opacity="0.8"/>
<line x1="493.51" y1="87.15" x2="488.14" y2="81.25" stroke="#00ff90" stroke-width="1.05"/>
<line x1="488.14" y1="81.25" x2="469.18" y2="60.43" stroke="#10f4cc" stroke-width="1.05"/>
<line x1="469.18" y1="60.43" x2="459.71" y2="50.01" stroke="#26dcf4" stroke-width="0.95"/>
<circle cx="459.45" cy="49.74" r="0.8" fill="#4a78ff" opacity="0.85"/>
<line x1="505.96" y1="103.57" x2="490.99" y2="89.15" stroke="#1cff1c" stroke-width="0.8" opacity="0.8"/>
<line x1="490.99" y1="89.15" x2="485.2" y2="83.57" stroke="#1cff1c" stroke-width="1.15"/>
<line x1="485.2" y1="83.57" x2="464.77" y2="63.91" stroke="#16ff34" stroke-width="1.15"/>
<line x1="464.77" y1="63.91" x2="454.56" y2="54.08" stroke="#12f848" stroke-width="1.05"/>
<circle cx="454.29" cy="53.82" r="0.8" fill="#4a78ff" opacity="0.25"/>
<line x1="504.61" y1="104.79" x2="488.61" y2="91.29" stroke="#1cff1c" stroke-width="0.8" opacity="0.8"/>
<line x1="488.61" y1="91.29" x2="482.43" y2="86.07" stroke="#1cff1c" stroke-width="1.15"/>
<line x1="482.43" y1="86.07" x2="460.62" y2="67.65" stroke="#16ff34" stroke-width="1.15"/>
<line x1="460.62" y1="67.65" x2="449.72" y2="58.44" stroke="#12f848" stroke-width="1.05"/>
<circle cx="449.43" cy="58.2" r="0.8" fill="#4a78ff" opacity="0.25"/>
<line x1="503.34" y1="106.09" x2="486.4" y2="93.56" stroke="#00ff90" stroke-width="0.8" opacity="0.8"/>
<line x1="486.4" y1="93.56" x2="479.85" y2="88.72" stroke="#00ff90" stroke-width="1.05"/>
<line x1="479.85" y1="88.72" x2="456.76" y2="71.63" stroke="#10f4cc" stroke-width="1.05"/>
<line x1="456.76" y1="71.63" x2="445.21" y2="63.08" stroke="#26dcf4" stroke-width="0.95"/>
<circle cx="444.9" cy="62.86" r="0.8" fill="#4a78ff" opacity="0.85"/>
<line x1="502.17" y1="107.47" x2="484.36" y2="95.96" stroke="#1cff1c" stroke-width="0.8" opacity="0.8"/>
<line x1="484.36" y1="95.96" x2="477.47" y2="91.52" stroke="#1cff1c" stroke-width="1.15"/>
<line x1="477.47" y1="91.52" x2="453.19" y2="75.82" stroke="#16ff34" stroke-width="1.15"/>
<line x1="453.19" y1="75.82" x2="441.04" y2="67.98" stroke="#12f848" stroke-width="1.05"/>
<circle cx="440.72" cy="67.77" r="0.8" fill="#4a78ff" opacity="0.25"/>
<line x1="501.1" y1="108.91" x2="482.49" y2="98.48" stroke="#00ff90" stroke-width="0.8" opacity="0.8"/>
<line x1="482.49" y1="98.48" x2="475.3" y2="94.45" stroke="#00ff90" stroke-width="1.05"/>
<line x1="475.3" y1="94.45" x2="449.93" y2="80.22" stroke="#10f4cc" stroke-width="1.05"/>
<line x1="449.93" y1="80.22" x2="437.24" y2="73.11" stroke="#26dcf4" stroke-width="0.95"/>
<circle cx="436.9" cy="72.92" r="0.8" fill="#4a78ff" opacity="0.85"/>
<line x1="500.14" y1="110.41" x2="480.81" y2="101.1" stroke="#1cff1c" stroke-width="0.8" opacity="0.8"/>
<line x1="480.81" y1="101.1" x2="473.35" y2="97.5" stroke="#1cff1c" stroke-width="1.15"/>
<line x1="473.35" y1="97.5" x2="446.99" y2="84.8" stroke="#16ff34" stroke-width="1.15"/>
<line x1="446.99" y1="84.8" x2="433.82" y2="78.45" stroke="#12f848" stroke-width="1.05"/>
<circle cx="433.47" cy="78.28" r="0.8" fill="#4a78ff" opacity="0.25"/>
<line x1="499.29" y1="111.97" x2="479.33" y2="103.81" stroke="#00ff90" stroke-width="0.8" opacity="0.8"/>
<line x1="479.33" y1="103.81" x2="471.62" y2="100.66" stroke="#00ff90" stroke-width="1.05"/>
<line x1="471.62" y1="100.66" x2="444.4" y2="89.55" stroke="#10f4cc" stroke-width="1.05"/>
<line x1="444.4" y1="89.55" x2="430.79" y2="83.99" stroke="#26dcf4" stroke-width="0.95"/>
<circle cx="430.43" cy="83.84" r="0.8" fill="#4a78ff" opacity="0.85"/>
<line x1="498.55" y1="113.57" x2="478.04" y2="106.61" stroke="#1cff1c" stroke-width="0.8" opacity="0.8"/>
<line x1="478.04" y1="106.61" x2="470.12" y2="103.92" stroke="#1cff1c" stroke-width="1.15"/>
<line x1="470.12" y1="103.92" x2="442.16" y2="94.43" stroke="#16ff34" stroke-width="1.15"/>
<line x1="442.16" y1="94.43" x2="428.17" y2="89.69" stroke="#12f848" stroke-width="1.05"/>
<circle cx="427.8" cy="89.56" r="0.8" fill="#4a78ff" opacity="0.25"/>
<line x1="497.93" y1="115.21" x2="476.96" y2="109.48" stroke="#00ff90" stroke-width="0.8" opacity="0.8"/>
<line x1="476.96" y1="109.48" x2="468.86" y2="107.26" stroke="#00ff90" stroke-width="1.05"/>
<line x1="468.86" y1="107.26" x2="440.27" y2="99.44" stroke="#10f4cc" stroke-width="1.05"/>
<line x1="440.27" y1="99.44" x2="425.97" y2="95.53" stroke="#26dcf4" stroke-width="0.95"/>
<circle cx="425.59" cy="95.42" r="0.8" fill="#4a78ff" opacity="0.85"/>
<line x1="497.44" y1="116.88" x2="476.1" y2="112.4" stroke="#1cff1c" stroke-width="0.8" opacity="0.8"/>
<line x1="476.1" y1="112.4" x2="467.85" y2="110.67" stroke="#1cff1c" stroke-width="1.15"/>
<line x1="467.85" y1="110.67" x2="438.75" y2="104.55" stroke="#16ff34" stroke-width="1.15"/>
<line x1="438.75" y1="104.55" x2="424.2" y2="101.49" stroke="#12f848" stroke-width="1.05"/>
<circle cx="423.81" cy="101.41" r="0.8" fill="#4a78ff" opacity="0.25"/>
<line x1="497.06" y1="118.58" x2="475.44" y2="115.37" stroke="#00ff90" stroke-width="0.8" opacity="0.8"/>
<line x1="475.44" y1="115.37" x2="467.09" y2="114.12" stroke="#00ff90" stroke-width="1.05"/>
<line x1="467.09" y1="114.12" x2="437.61" y2="109.73" stroke="#10f4cc" stroke-width="1.05"/>
<line x1="437.61" y1="109.73" x2="422.87" y2="107.54" stroke="#26dcf4" stroke-width="0.95"/>
<circle cx="422.47" cy="107.48" r="0.8" fill="#4a78ff" opacity="0.85"/>
<line x1="496.81" y1="120.3" x2="475" y2="118.37" stroke="#1cff1c" stroke-width="0.8" opacity="0.8"/>
<line x1="475" y1="118.37" x2="466.58" y2="117.62" stroke="#1cff1c" stroke-width="1.15"/>
<line x1="466.58" y1="117.62" x2="436.84" y2="114.98" stroke="#16ff34" stroke-width="1.15"/>
<line x1="436.84" y1="114.98" x2="421.97" y2="113.66" stroke="#12f848" stroke-width="1.05"/>
<circle cx="421.58" cy="113.62" r="0.8" fill="#4a78ff" opacity="0.25"/>
<line x1="496.68" y1="122.03" x2="474.78" y2="121.39" stroke="#00ff90" stroke-width="0.8" opacity="0.8"/>
<line x1="474.78" y1="121.39" x2="466.32" y2="121.14" stroke="#00ff90" stroke-width="1.05"/>
<line x1="466.32" y1="121.14" x2="436.46" y2="120.26" stroke="#10f4cc" stroke-width="1.05"/>
<line x1="436.46" y1="120.26" x2="421.53" y2="119.81" stroke="#26dcf4" stroke-width="0.95"/>
<circle cx="421.13" cy="119.8" r="0.8" fill="#4a78ff" opacity="0.85"/>
<line x1="496.68" y1="123.77" x2="474.78" y2="124.41" stroke="#1cff1c" stroke-width="0.8" opacity="0.8"/>
<line x1="474.78" y1="124.41" x2="466.32" y2="124.66" stroke="#1cff1c" stroke-width="1.15"/>
<line x1="466.32" y1="124.66" x2="436.46" y2="125.54" stroke="#16ff34" stroke-width="1.15"/>
<line x1="436.46" y1="125.54" x2="421.53" y2="125.99" stroke="#12f848" stroke-width="1.05"/>
<circle cx="421.13" cy="126" r="0.8" fill="#4a78ff" opacity="0.25"/>
<line x1="496.81" y1="125.5" x2="475" y2="127.43" stroke="#00ff90" stroke-width="0.8" opacity="0.8"/>
<line x1="475" y1="127.43" x2="466.58" y2="128.18" stroke="#00ff90" stroke-width="1.05"/>
<line x1="466.58" y1="128.18" x2="436.84" y2="130.82" stroke="#10f4cc" stroke-width="1.05"/>
<line x1="436.84" y1="130.82" x2="421.97" y2="132.14" stroke="#26dcf4" stroke-width="0.95"/>
<circle cx="421.58" cy="132.18" r="0.8" fill="#4a78ff" opacity="0.85"/>
<line x1="497.06" y1="127.22" x2="475.44" y2="130.43" stroke="#1cff1c" stroke-width="0.8" opacity="0.8"/>
<line x1="475.44" y1="130.43" x2="467.09" y2="131.68" stroke="#1cff1c" stroke-width="1.15"/>
<line x1="467.09" y1="131.68" x2="437.61" y2="136.07" stroke="#16ff34" stroke-width="1.15"/>
<line x1="437.61" y1="136.07" x2="422.87" y2="138.26" stroke="#12f848" stroke-width="1.05"/>
<circle cx="422.47" cy="138.32" r="0.8" fill="#4a78ff" opacity="0.25"/>
<line x1="497.44" y1="128.92" x2="476.1" y2="133.4" stroke="#00ff90" stroke-width="0.8" opacity="0.8"/>
<line x1="476.1" y1="133.4" x2="467.85" y2="135.13" stroke="#00ff90" stroke-width="1.05"/>
<line x1="467.85" y1="135.13" x2="438.75" y2="141.25" stroke="#10f4cc" stroke-width="1.05"/>
<line x1="438.75" y1="141.25" x2="424.2" y2="144.31" stroke="#26dcf4" stroke-width="0.95"/>
<circle cx="423.81" cy="144.39" r="0.8" fill="#4a78ff" opacity="0.85"/>
<line x1="497.93" y1="130.59" x2="476.96" y2="136.32" stroke="#1cff1c" stroke-width="0.8" opacity="0.8"/>
<line x1="476.96" y1="136.32" x2="468.86" y2="138.54" stroke="#1cff1c" stroke-width="1.15"/>
<line x1="468.86" y1="138.54" x2="440.27" y2="146.36" stroke="#16ff34" stroke-width="1.15"/>
<line x1="440.27" y1="146.36" x2="425.97" y2="150.27" stroke="#12f848" stroke-width="1.05"/>
<circle cx="425.59" cy="150.38" r="0.8" fill="#4a78ff" opacity="0.25"/>
<line x1="498.55" y1="132.23" x2="478.04" y2="139.19" stroke="#00ff90" stroke-width="0.8" opacity="0.8"/>
<line x1="478.04" y1="139.19" x2="470.12" y2="141.88" stroke="#00ff90" stroke-width="1.05"/>
<line x1="470.12" y1="141.88" x2="442.16" y2="151.37" stroke="#10f4cc" stroke-width="1.05"/>
<line x1="442.16" y1="151.37" x2="428.17" y2="156.11" stroke="#26dcf4" stroke-width="0.95"/>
<circle cx="427.8" cy="156.24" r="0.8" fill="#4a78ff" opacity="0.85"/>
<line x1="499.29" y1="133.83" x2="479.33" y2="141.99" stroke="#1cff1c" stroke-width="0.8" opacity="0.8"/>
<line x1="479.33" y1="141.99" x2="471.62" y2="145.14" stroke="#1cff1c" stroke-width="1.15"/>
<line x1="471.62" y1="145.14" x2="444.4" y2="156.25" stroke="#16ff34" stroke-width="1.15"/>
<line x1="444.4" y1="156.25" x2="430.79" y2="161.81" stroke="#12f848" stroke-width="1.05"/>
<circle cx="430.43" cy="161.96" r="0.8" fill="#4a78ff" opacity="0.25"/>
<line x1="500.14" y1="135.39" x2="480.81" y2="144.7" stroke="#00ff90" stroke-width="0.8" opacity="0.8"/>
<line x1="480.81" y1="144.7" x2="473.35" y2="148.3" stroke="#00ff90" stroke-width="1.05"/>
<line x1="473.35" y1="148.3" x2="446.99" y2="161" stroke="#10f4cc" stroke-width="1.05"/>
<line x1="446.99" y1="161" x2="433.82" y2="167.35" stroke="#26dcf4" stroke-width="0.95"/>
<circle cx="433.47" cy="167.52" r="0.8" fill="#4a78ff" opacity="0.85"/>
<line x1="501.1" y1="136.89" x2="482.49" y2="147.32" stroke="#1cff1c" stroke-width="0.8" opacity="0.8"/>
<line x1="482.49" y1="147.32" x2="475.3" y2="151.35" stroke="#1cff1c" stroke-width="1.15"/>
<line x1="475.3" y1="151.35" x2="449.93" y2="165.58" stroke="#16ff34" stroke-width="1.15"/>
<line x1="449.93" y1="165.58" x2="437.24" y2="172.69" stroke="#12f848" stroke-width="1.05"/>
<circle cx="436.9" cy="172.88" r="0.8" fill="#4a78ff" opacity="0.25"/>
<line x1="502.17" y1="138.33" x2="484.36" y2="149.84" stroke="#00ff90" stroke-width="0.8" opacity="0.8"/>
<line x1="484.36" y1="149.84" x2="477.47" y2="154.28" stroke="#00ff90" stroke-width="1.05"/>
<line x1="477.47" y1="154.28" x2="453.19" y2="169.98" stroke="#10f4cc" stroke-width="1.05"/>
<line x1="453.19" y1="169.98" x2="441.04" y2="177.82" stroke="#26dcf4" stroke-width="0.95"/>
<circle cx="440.72" cy="178.03" r="0.8" fill="#4a78ff" opacity="0.85"/>
<line x1="503.34" y1="139.71" x2="486.4" y2="152.24" stroke="#1cff1c" stroke-width="0.8" opacity="0.8"/>
<line x1="486.4" y1="152.24" x2="479.85" y2="157.08" stroke="#1cff1c" stroke-width="1.15"/>
<line x1="479.85" y1="157.08" x2="456.76" y2="174.17" stroke="#16ff34" stroke-width="1.15"/>
<line x1="456.76" y1="174.17" x2="445.21" y2="182.72" stroke="#12f848" stroke-width="1.05"/>
<circle cx="444.9" cy="182.94" r="0.8" fill="#4a78ff" opacity="0.25"/>
<line x1="504.61" y1="141.01" x2="488.61" y2="154.51" stroke="#2a78ff" stroke-width="0.8" opacity="0.8"/>
<line x1="488.61" y1="154.51" x2="482.43" y2="159.73" stroke="#2a78ff" stroke-width="1.45"/>
<line x1="482.43" y1="159.73" x2="460.62" y2="178.15" stroke="#2c5cff" stroke-width="1.45"/>
<line x1="460.62" y1="178.15" x2="449.72" y2="187.36" stroke="#3050ff" stroke-width="1.35"/>
<circle cx="449.43" cy="187.6" r="0.8" fill="#4a78ff" opacity="0.85"/>
<line x1="505.96" y1="142.23" x2="490.99" y2="156.65" stroke="#1cff1c" stroke-width="0.8" opacity="0.8"/>
<line x1="490.99" y1="156.65" x2="485.2" y2="162.23" stroke="#1cff1c" stroke-width="1.15"/>
<line x1="485.2" y1="162.23" x2="464.77" y2="181.89" stroke="#16ff34" stroke-width="1.15"/>
<line x1="464.77" y1="181.89" x2="454.56" y2="191.72" stroke="#12f848" stroke-width="1.05"/>
<circle cx="454.29" cy="191.98" r="0.8" fill="#4a78ff" opacity="0.25"/>
<line x1="507.41" y1="143.38" x2="493.51" y2="158.65" stroke="#00ff90" stroke-width="0.8" opacity="0.8"/>
<line x1="493.51" y1="158.65" x2="488.14" y2="164.55" stroke="#00ff90" stroke-width="1.05"/>
<line x1="488.14" y1="164.55" x2="469.18" y2="185.37" stroke="#10f4cc" stroke-width="1.05"/>
<line x1="469.18" y1="185.37" x2="459.71" y2="195.79" stroke="#26dcf4" stroke-width="0.95"/>
<circle cx="459.45" cy="196.06" r="0.8" fill="#4a78ff" opacity="0.85"/>
<line x1="508.94" y1="144.43" x2="496.17" y2="160.49" stroke="#1cff1c" stroke-width="0.8" opacity="0.8"/>
<line x1="496.17" y1="160.49" x2="491.24" y2="166.7" stroke="#1cff1c" stroke-width="1.15"/>
<line x1="491.24" y1="166.7" x2="473.84" y2="188.59" stroke="#16ff34" stroke-width="1.15"/>
<line x1="473.84" y1="188.59" x2="465.13" y2="199.54" stroke="#12f848" stroke-width="1.05"/>
<circle cx="464.9" cy="199.84" r="0.8" fill="#4a78ff" opacity="0.25"/>
<line x1="510.53" y1="145.4" x2="498.96" y2="162.17" stroke="#00ff90" stroke-width="0.8" opacity="0.8"/>
<line x1="498.96" y1="162.17" x2="494.49" y2="168.66" stroke="#00ff90" stroke-width="1.05"/>
<line x1="494.49" y1="168.66" x2="478.71" y2="191.53" stroke="#10f4cc" stroke-width="1.05"/>
<line x1="478.71" y1="191.53" x2="470.82" y2="202.97" stroke="#26dcf4" stroke-width="0.95"/>
<circle cx="470.61" cy="203.28" r="0.8" fill="#4a78ff" opacity="0.85"/>
<line x1="512.2" y1="146.26" x2="501.87" y2="163.69" stroke="#1cff1c" stroke-width="0.8" opacity="0.8"/>
<line x1="501.87" y1="163.69" x2="497.88" y2="170.42" stroke="#1cff1c" stroke-width="1.15"/>
<line x1="497.88" y1="170.42" x2="483.79" y2="194.18" stroke="#16ff34" stroke-width="1.15"/>
<line x1="483.79" y1="194.18" x2="476.75" y2="206.06" stroke="#12f848" stroke-width="1.05"/>
<circle cx="476.56" cy="206.37" r="0.8" fill="#4a78ff" opacity="0.25"/>
<line x1="513.92" y1="147.03" x2="504.88" y2="165.02" stroke="#00ff90" stroke-width="0.8" opacity="0.8"/>
<line x1="504.88" y1="165.02" x2="501.39" y2="171.98" stroke="#00ff90" stroke-width="1.05"/>
<line x1="501.39" y1="171.98" x2="489.05" y2="196.52" stroke="#10f4cc" stroke-width="1.05"/>
<line x1="489.05" y1="196.52" x2="482.89" y2="208.79" stroke="#26dcf4" stroke-width="0.95"/>
<circle cx="482.72" cy="209.11" r="0.8" fill="#4a78ff" opacity="0.85"/>
<line x1="515.7" y1="147.69" x2="507.98" y2="166.18" stroke="#1cff1c" stroke-width="0.8" opacity="0.8"/>
<line x1="507.98" y1="166.18" x2="505" y2="173.33" stroke="#1cff1c" stroke-width="1.15"/>
<line x1="505" y1="173.33" x2="494.47" y2="198.54" stroke="#16ff34" stroke-width="1.15"/>
<line x1="494.47" y1="198.54" x2="489.21" y2="211.15" stroke="#12f848" stroke-width="1.05"/>
<circle cx="489.07" cy="211.48" r="0.8" fill="#4a78ff" opacity="0.25"/>
<line x1="517.52" y1="148.25" x2="511.16" y2="167.16" stroke="#00ff90" stroke-width="0.8" opacity="0.8"/>
<line x1="511.16" y1="167.16" x2="508.7" y2="174.46" stroke="#00ff90" stroke-width="1.05"/>
<line x1="508.7" y1="174.46" x2="500.03" y2="200.24" stroke="#10f4cc" stroke-width="1.05"/>
<line x1="500.03" y1="200.24" x2="495.69" y2="213.13" stroke="#26dcf4" stroke-width="0.95"/>
<circle cx="495.58" cy="213.47" r="0.8" fill="#4a78ff" opacity="0.85"/>
<line x1="519.38" y1="148.7" x2="514.4" y2="167.94" stroke="#1cff1c" stroke-width="0.8" opacity="0.8"/>
<line x1="514.4" y1="167.94" x2="512.48" y2="175.37" stroke="#1cff1c" stroke-width="1.15"/>
<line x1="512.48" y1="175.37" x2="505.69" y2="201.61" stroke="#16ff34" stroke-width="1.15"/>
<line x1="505.69" y1="201.61" x2="502.3" y2="214.73" stroke="#12f848" stroke-width="1.05"/>
<circle cx="502.21" cy="215.08" r="0.8" fill="#4a78ff" opacity="0.25"/>
<line x1="521.26" y1="149.04" x2="517.69" y2="168.53" stroke="#00ff90" stroke-width="0.8" opacity="0.8"/>
<line x1="517.69" y1="168.53" x2="516.32" y2="176.06" stroke="#00ff90" stroke-width="1.05"/>
<line x1="516.32" y1="176.06" x2="511.45" y2="202.64" stroke="#10f4cc" stroke-width="1.05"/>
<line x1="511.45" y1="202.64" x2="509.01" y2="215.93" stroke="#26dcf4" stroke-width="0.95"/>
<circle cx="508.95" cy="216.29" r="0.8" fill="#4a78ff" opacity="0.85"/>
<line x1="523.17" y1="149.26" x2="521.02" y2="168.92" stroke="#1cff1c" stroke-width="0.8" opacity="0.8"/>
<line x1="521.02" y1="168.92" x2="520.19" y2="176.52" stroke="#1cff1c" stroke-width="1.15"/>
<line x1="520.19" y1="176.52" x2="517.26" y2="203.33" stroke="#16ff34" stroke-width="1.15"/>
<line x1="517.26" y1="203.33" x2="515.8" y2="216.74" stroke="#12f848" stroke-width="1.05"/>
<circle cx="515.76" cy="217.09" r="0.8" fill="#4a78ff" opacity="0.25"/>
<line x1="525.09" y1="149.38" x2="524.37" y2="169.12" stroke="#00ff90" stroke-width="0.8" opacity="0.8"/>
<line x1="524.37" y1="169.12" x2="524.09" y2="176.75" stroke="#00ff90" stroke-width="1.05"/>
<line x1="524.09" y1="176.75" x2="523.12" y2="203.68" stroke="#10f4cc" stroke-width="1.05"/>
<line x1="523.12" y1="203.68" x2="522.63" y2="217.14" stroke="#26dcf4" stroke-width="0.95"/>
<circle cx="522.62" cy="217.5" r="0.8" fill="#4a78ff" opacity="0.85"/>
<line x1="527.01" y1="149.38" x2="527.73" y2="169.12" stroke="#1cff1c" stroke-width="0.8" opacity="0.8"/>
<line x1="527.73" y1="169.12" x2="528.01" y2="176.75" stroke="#1cff1c" stroke-width="1.15"/>
<line x1="528.01" y1="176.75" x2="528.98" y2="203.68" stroke="#16ff34" stroke-width="1.15"/>
<line x1="528.98" y1="203.68" x2="529.47" y2="217.14" stroke="#12f848" stroke-width="1.05"/>
<circle cx="529.48" cy="217.5" r="0.8" fill="#4a78ff" opacity="0.25"/>
<line x1="528.93" y1="149.26" x2="531.08" y2="168.92" stroke="#00ff90" stroke-width="0.8" opacity="0.8"/>
<line x1="531.08" y1="168.92" x2="531.91" y2="176.52" stroke="#00ff90" stroke-width="1.05"/>
<line x1="531.91" y1="176.52" x2="534.84" y2="203.33" stroke="#10f4cc" stroke-width="1.05"/>
<line x1="534.84" y1="203.33" x2="536.3" y2="216.74" stroke="#26dcf4" stroke-width="0.95"/>
<circle cx="536.34" cy="217.09" r="0.8" fill="#4a78ff" opacity="0.85"/>
<line x1="530.84" y1="149.04" x2="534.41" y2="168.53" stroke="#1cff1c" stroke-width="0.8" opacity="0.8"/>
<line x1="534.41" y1="168.53" x2="535.78" y2="176.06" stroke="#1cff1c" stroke-width="1.15"/>
<line x1="535.78" y1="176.06" x2="540.65" y2="202.64" stroke="#16ff34" stroke-width="1.15"/>
<line x1="540.65" y1="202.64" x2="543.09" y2="215.93" stroke="#12f848" stroke-width="1.05"/>
<circle cx="543.15" cy="216.29" r="0.8" fill="#4a78ff" opacity="0.25"/>
<line x1="532.72" y1="148.7" x2="537.7" y2="167.94" stroke="#00ff90" stroke-width="0.8" opacity="0.8"/>
<line x1="537.7" y1="167.94" x2="539.62" y2="175.37" stroke="#00ff90" stroke-width="1.05"/>
<line x1="539.62" y1="175.37" x2="546.41" y2="201.61" stroke="#10f4cc" stroke-width="1.05"/>
<line x1="546.41" y1="201.61" x2="549.8" y2="214.73" stroke="#26dcf4" stroke-width="0.95"/>
<circle cx="549.89" cy="215.08" r="0.8" fill="#4a78ff" opacity="0.85"/>
<line x1="534.58" y1="148.25" x2="540.94" y2="167.16" stroke="#1cff1c" stroke-width="0.8" opacity="0.8"/>
<line x1="540.94" y1="167.16" x2="543.4" y2="174.46" stroke="#1cff1c" stroke-width="1.15"/>
<line x1="543.4" y1="174.46" x2="552.07" y2="200.24" stroke="#16ff34" stroke-width="1.15"/>
<line x1="552.07" y1="200.24" x2="556.41" y2="213.13" stroke="#12f848" stroke-width="1.05"/>
<circle cx="556.52" cy="213.47" r="0.8" fill="#4a78ff" opacity="0.25"/>
<line x1="536.4" y1="147.69" x2="544.12" y2="166.18" stroke="#00ff90" stroke-width="0.8" opacity="0.8"/>
<line x1="544.12" y1="166.18" x2="547.1" y2="173.33" stroke="#00ff90" stroke-width="1.05"/>
<line x1="547.1" y1="173.33" x2="557.63" y2="198.54" stroke="#10f4cc" stroke-width="1.05"/>
<line x1="557.63" y1="198.54" x2="562.89" y2="211.15" stroke="#26dcf4" stroke-width="0.95"/>
<circle cx="563.03" cy="211.48" r="0.8" fill="#4a78ff" opacity="0.85"/>
<line x1="538.18" y1="147.03" x2="547.22" y2="165.02" stroke="#1cff1c" stroke-width="0.8" opacity="0.8"/>
<line x1="547.22" y1="165.02" x2="550.71" y2="171.98" stroke="#1cff1c" stroke-width="1.15"/>
<line x1="550.71" y1="171.98" x2="563.05" y2="196.52" stroke="#16ff34" stroke-width="1.15"/>
<line x1="563.05" y1="196.52" x2="569.21" y2="208.79" stroke="#12f848" stroke-width="1.05"/>
<circle cx="569.38" cy="209.11" r="0.8" fill="#4a78ff" opacity="0.25"/>
<line x1="539.9" y1="146.26" x2="550.23" y2="163.69" stroke="#00ff90" stroke-width="0.8" opacity="0.8"/>
<line x1="550.23" y1="163.69" x2="554.22" y2="170.42" stroke="#00ff90" stroke-width="1.05"/>
<line x1="554.22" y1="170.42" x2="568.31" y2="194.18" stroke="#10f4cc" stroke-width="1.05"/>
<line x1="568.31" y1="194.18" x2="575.35" y2="206.06" stroke="#26dcf4" stroke-width="0.95"/>
<circle cx="575.54" cy="206.37" r="0.8" fill="#4a78ff" opacity="0.85"/>
<line x1="541.57" y1="145.4" x2="553.14" y2="162.17" stroke="#1cff1c" stroke-width="0.8" opacity="0.8"/>
<line x1="553.14" y1="162.17" x2="557.61" y2="168.66" stroke="#1cff1c" stroke-width="1.15"/>
<line x1="557.61" y1="168.66" x2="573.39" y2="191.53" stroke="#16ff34" stroke-width="1.15"/>
<line x1="573.39" y1="191.53" x2="581.28" y2="202.97" stroke="#12f848" stroke-width="1.05"/>
<circle cx="581.49" cy="203.28" r="0.8" fill="#4a78ff" opacity="0.25"/>
<line x1="543.16" y1="144.43" x2="555.93" y2="160.49" stroke="#00ff90" stroke-width="0.8" opacity="0.8"/>
<line x1="555.93" y1="160.49" x2="560.86" y2="166.7" stroke="#00ff90" stroke-width="1.05"/>
<line x1="560.86" y1="166.7" x2="578.26" y2="188.59" stroke="#10f4cc" stroke-width="1.05"/>
<line x1="578.26" y1="188.59" x2="586.97" y2="199.54" stroke="#26dcf4" stroke-width="0.95"/>
<circle cx="587.2" cy="199.84" r="0.8" fill="#4a78ff" opacity="0.85"/>
<line x1="544.69" y1="143.38" x2="558.59" y2="158.65" stroke="#1cff1c" stroke-width="0.8" opacity="0.8"/>
<line x1="558.59" y1="158.65" x2="563.96" y2="164.55" stroke="#1cff1c" stroke-width="1.15"/>
<line x1="563.96" y1="164.55" x2="582.92" y2="185.37" stroke="#16ff34" stroke-width="1.15"/>
<line x1="582.92" y1="185.37" x2="592.39" y2="195.79" stroke="#12f848" stroke-width="1.05"/>
<circle cx="592.65" cy="196.06" r="0.8" fill="#4a78ff" opacity="0.25"/>
<line x1="546.14" y1="142.23" x2="561.11" y2="156.65" stroke="#00ff90" stroke-width="0.8" opacity="0.8"/>
<line x1="561.11" y1="156.65" x2="566.9" y2="162.23" stroke="#00ff90" stroke-width="1.05"/>
<line x1="566.9" y1="162.23" x2="587.33" y2="181.89" stroke="#10f4cc" stroke-width="1.05"/>
<line x1="587.33" y1="181.89" x2="597.54" y2="191.72" stroke="#26dcf4" stroke-width="0.95"/>
<circle cx="597.81" cy="191.98" r="0.8" fill="#4a78ff" opacity="0.85"/>
<line x1="547.49" y1="141.01" x2="563.49" y2="154.51" stroke="#00ff90" stroke-width="0.8" opacity="0.8"/>
<line x1="563.49" y1="154.51" x2="569.67" y2="159.73" stroke="#00ff90" stroke-width="1.05"/>
<line x1="569.67" y1="159.73" x2="591.48" y2="178.15" stroke="#10f4cc" stroke-width="1.05"/>
<line x1="591.48" y1="178.15" x2="602.38" y2="187.36" stroke="#26dcf4" stroke-width="0.95"/>
<circle cx="602.67" cy="187.6" r="0.8" fill="#4a78ff" opacity="0.85"/>
<line x1="548.76" y1="139.71" x2="565.7" y2="152.24" stroke="#1cff1c" stroke-width="0.8" opacity="0.8"/>
<line x1="565.7" y1="152.24" x2="572.25" y2="157.08" stroke="#1cff1c" stroke-width="1.15"/>
<line x1="572.25" y1="157.08" x2="595.34" y2="174.17" stroke="#16ff34" stroke-width="1.15"/>
<line x1="595.34" y1="174.17" x2="606.89" y2="182.72" stroke="#12f848" stroke-width="1.05"/>
<circle cx="607.2" cy="182.94" r="0.8" fill="#4a78ff" opacity="0.25"/>
<line x1="549.93" y1="138.33" x2="567.74" y2="149.84" stroke="#00ff90" stroke-width="0.8" opacity="0.8"/>
<line x1="567.74" y1="149.84" x2="574.63" y2="154.28" stroke="#00ff90" stroke-width="1.05"/>
<line x1="574.63" y1="154.28" x2="598.91" y2="169.98" stroke="#10f4cc" stroke-width="1.05"/>
<line x1="598.91" y1="169.98" x2="611.06" y2="177.82" stroke="#26dcf4" stroke-width="0.95"/>
<circle cx="611.38" cy="178.03" r="0.8" fill="#4a78ff" opacity="0.85"/>
<line x1="551" y1="136.89" x2="569.61" y2="147.32" stroke="#1cff1c" stroke-width="0.8" opacity="0.8"/>
<line x1="569.61" y1="147.32" x2="576.8" y2="151.35" stroke="#1cff1c" stroke-width="1.15"/>
<line x1="576.8" y1="151.35" x2="602.17" y2="165.58" stroke="#16ff34" stroke-width="1.15"/>
<line x1="602.17" y1="165.58" x2="614.86" y2="172.69" stroke="#12f848" stroke-width="1.05"/>
<circle cx="615.2" cy="172.88" r="0.8" fill="#4a78ff" opacity="0.25"/>
<line x1="551.96" y1="135.39" x2="571.29" y2="144.7" stroke="#00ff90" stroke-width="0.8" opacity="0.8"/>
<line x1="571.29" y1="144.7" x2="578.75" y2="148.3" stroke="#00ff90" stroke-width="1.05"/>
<line x1="578.75" y1="148.3" x2="605.11" y2="161" stroke="#10f4cc" stroke-width="1.05"/>
<line x1="605.11" y1="161" x2="618.28" y2="167.35" stroke="#26dcf4" stroke-width="0.95"/>
<circle cx="618.63" cy="167.52" r="0.8" fill="#4a78ff" opacity="0.85"/>
<line x1="552.81" y1="133.83" x2="572.77" y2="141.99" stroke="#1cff1c" stroke-width="0.8" opacity="0.8"/>
<line x1="572.77" y1="141.99" x2="580.48" y2="145.14" stroke="#1cff1c" stroke-width="1.15"/>
<line x1="580.48" y1="145.14" x2="607.7" y2="156.25" stroke="#16ff34" stroke-width="1.15"/>
<line x1="607.7" y1="156.25" x2="621.31" y2="161.81" stroke="#12f848" stroke-width="1.05"/>
<circle cx="621.67" cy="161.96" r="0.8" fill="#4a78ff" opacity="0.25"/>
<line x1="553.55" y1="132.23" x2="574.06" y2="139.19" stroke="#00ff90" stroke-width="0.8" opacity="0.8"/>
<line x1="574.06" y1="139.19" x2="581.98" y2="141.88" stroke="#00ff90" stroke-width="1.05"/>
<line x1="581.98" y1="141.88" x2="609.94" y2="151.37" stroke="#10f4cc" stroke-width="1.05"/>
<line x1="609.94" y1="151.37" x2="623.93" y2="156.11" stroke="#26dcf4" stroke-width="0.95"/>
<circle cx="624.3" cy="156.24" r="0.8" fill="#4a78ff" opacity="0.85"/>
<line x1="554.17" y1="130.59" x2="575.14" y2="136.32" stroke="#1cff1c" stroke-width="0.8" opacity="0.8"/>
<line x1="575.14" y1="136.32" x2="583.24" y2="138.54" stroke="#1cff1c" stroke-width="1.15"/>
<line x1="583.24" y1="138.54" x2="611.83" y2="146.36" stroke="#16ff34" stroke-width="1.15"/>
<line x1="611.83" y1="146.36" x2="626.13" y2="150.27" stroke="#12f848" stroke-width="1.05"/>
<circle cx="626.51" cy="150.38" r="0.8" fill="#4a78ff" opacity="0.25"/>
<line x1="554.66" y1="128.92" x2="576" y2="133.4" stroke="#00ff90" stroke-width="0.8" opacity="0.8"/>
<line x1="576" y1="133.4" x2="584.25" y2="135.13" stroke="#00ff90" stroke-width="1.05"/>
<line x1="584.25" y1="135.13" x2="613.35" y2="141.25" stroke="#10f4cc" stroke-width="1.05"/>
<line x1="613.35" y1="141.25" x2="627.9" y2="144.31" stroke="#26dcf4" stroke-width="0.95"/>
<circle cx="628.29" cy="144.39" r="0.8" fill="#4a78ff" opacity="0.85"/>
<line x1="555.04" y1="127.22" x2="576.66" y2="130.43" stroke="#1cff1c" stroke-width="0.8" opacity="0.8"/>
<line x1="576.66" y1="130.43" x2="585.01" y2="131.68" stroke="#1cff1c" stroke-width="1.15"/>
<line x1="585.01" y1="131.68" x2="614.49" y2="136.07" stroke="#16ff34" stroke-width="1.15"/>
<line x1="614.49" y1="136.07" x2="629.23" y2="138.26" stroke="#12f848" stroke-width="1.05"/>
<circle cx="629.63" cy="138.32" r="0.8" fill="#4a78ff" opacity="0.25"/>
<line x1="555.29" y1="125.5" x2="577.1" y2="127.43" stroke="#00ff90" stroke-width="0.8" opacity="0.8"/>
<line x1="577.1" y1="127.43" x2="585.52" y2="128.18" stroke="#00ff90" stroke-width="1.05"/>
<line x1="585.52" y1="128.18" x2="615.26" y2="130.82" stroke="#10f4cc" stroke-width="1.05"/>
<line x1="615.26" y1="130.82" x2="630.13" y2="132.14" stroke="#26dcf4" stroke-width="0.95"/>
<circle cx="630.52" cy="132.18" r="0.8" fill="#4a78ff" opacity="0.85"/>
<line x1="555.42" y1="123.77" x2="577.32" y2="124.41" stroke="#1cff1c" stroke-width="0.8" opacity="0.8"/>
<line x1="577.32" y1="124.41" x2="585.78" y2="124.66" stroke="#1cff1c" stroke-width="1.15"/>
<line x1="585.78" y1="124.66" x2="615.64" y2="125.54" stroke="#16ff34" stroke-width="1.15"/>
<line x1="615.64" y1="125.54" x2="630.57" y2="125.99" stroke="#12f848" stroke-width="1.05"/>
<circle cx="630.97" cy="126" r="0.8" fill="#4a78ff" opacity="0.25"/>
<line x1="577.78" y1="120.58" x2="609.11" y2="119.17" stroke="#10f0d0" stroke-width="0.75"/>
<line x1="577.67" y1="119.11" x2="608.94" y2="116.82" stroke="#18ff38" stroke-width="0.75"/>
<circle cx="609.91" cy="119.14" r="0.85" fill="#4a6cff" opacity="0.85"/>
<line x1="577" y1="114.51" x2="607.86" y2="109.43" stroke="#10f0d0" stroke-width="0.75"/>
<line x1="576.68" y1="113.07" x2="607.35" y2="107.12" stroke="#18ff38" stroke-width="0.75"/>
<circle cx="608.65" cy="109.3" r="0.85" fill="#4a6cff" opacity="0.85"/>
<line x1="575.35" y1="108.59" x2="605.21" y2="99.92" stroke="#10f0d0" stroke-width="0.75"/>
<line x1="574.83" y1="107.2" x2="604.37" y2="97.69" stroke="#18ff38" stroke-width="0.75"/>
<circle cx="605.97" cy="99.7" r="0.85" fill="#4a6cff" opacity="0.85"/>
<line x1="572.85" y1="102.91" x2="601.21" y2="90.8" stroke="#10f0d0" stroke-width="0.75"/>
<line x1="572.14" y1="101.59" x2="600.05" y2="88.68" stroke="#18ff38" stroke-width="0.75"/>
<circle cx="601.93" cy="90.49" r="0.85" fill="#4a6cff" opacity="0.85"/>
<line x1="569.56" y1="97.57" x2="595.92" y2="82.23" stroke="#10f0d0" stroke-width="0.75"/>
<line x1="568.66" y1="96.35" x2="594.47" y2="80.27" stroke="#18ff38" stroke-width="0.75"/>
<circle cx="596.59" cy="81.84" r="0.85" fill="#4a6cff" opacity="0.85"/>
<line x1="565.52" y1="92.67" x2="589.43" y2="74.35" stroke="#10f0d0" stroke-width="0.75"/>
<line x1="564.45" y1="91.56" x2="587.71" y2="72.58" stroke="#18ff38" stroke-width="0.75"/>
<circle cx="590.04" cy="73.89" r="0.85" fill="#4a6cff" opacity="0.85"/>
<line x1="560.81" y1="88.28" x2="581.86" y2="67.31" stroke="#10f0d0" stroke-width="0.75"/>
<line x1="559.58" y1="87.31" x2="579.9" y2="65.76" stroke="#18ff38" stroke-width="0.75"/>
<circle cx="582.4" cy="66.78" r="0.85" fill="#4a6cff" opacity="0.85"/>
<line x1="555.5" y1="84.49" x2="573.34" y2="61.22" stroke="#10f0d0" stroke-width="0.75"/>
<line x1="554.14" y1="83.67" x2="571.16" y2="59.91" stroke="#18ff38" stroke-width="0.75"/>
<circle cx="573.79" cy="60.62" r="0.85" fill="#4a6cff" opacity="0.85"/>
<line x1="549.68" y1="81.35" x2="564" y2="56.18" stroke="#10f0d0" stroke-width="0.75"/>
<line x1="548.22" y1="80.7" x2="561.66" y2="55.14" stroke="#18ff38" stroke-width="0.75"/>
<circle cx="564.36" cy="55.54" r="0.85" fill="#4a6cff" opacity="0.85"/>
<line x1="543.47" y1="78.92" x2="554.02" y2="52.28" stroke="#10f0d0" stroke-width="0.75"/>
<line x1="541.93" y1="78.45" x2="551.54" y2="51.53" stroke="#18ff38" stroke-width="0.75"/>
<circle cx="554.28" cy="51.61" r="0.85" fill="#4a6cff" opacity="0.85"/>
<line x1="536.95" y1="77.25" x2="543.55" y2="49.6" stroke="#10f0d0" stroke-width="0.75"/>
<line x1="535.35" y1="76.96" x2="540.99" y2="49.14" stroke="#18ff38" stroke-width="0.75"/>
<circle cx="543.72" cy="48.89" r="0.85" fill="#4a6cff" opacity="0.85"/>
<line x1="530.25" y1="76.36" x2="532.79" y2="48.16" stroke="#10f0d0" stroke-width="0.75"/>
<line x1="528.63" y1="76.26" x2="530.19" y2="48.01" stroke="#18ff38" stroke-width="0.75"/>
<circle cx="532.86" cy="47.45" r="0.85" fill="#4a6cff" opacity="0.85"/>
<line x1="523.47" y1="76.26" x2="521.91" y2="48.01" stroke="#10f0d0" stroke-width="0.75"/>
<line x1="521.85" y1="76.36" x2="519.31" y2="48.16" stroke="#18ff38" stroke-width="0.75"/>
<circle cx="521.88" cy="47.29" r="0.85" fill="#4a6cff" opacity="0.85"/>
<line x1="516.75" y1="76.96" x2="511.11" y2="49.14" stroke="#10f0d0" stroke-width="0.75"/>
<line x1="515.15" y1="77.25" x2="508.55" y2="49.6" stroke="#18ff38" stroke-width="0.75"/>
<circle cx="510.97" cy="48.43" r="0.85" fill="#4a6cff" opacity="0.85"/>
<line x1="510.17" y1="78.45" x2="500.56" y2="51.53" stroke="#10f0d0" stroke-width="0.75"/>
<line x1="508.63" y1="78.92" x2="498.08" y2="52.28" stroke="#18ff38" stroke-width="0.75"/>
<circle cx="500.31" cy="50.84" r="0.85" fill="#4a6cff" opacity="0.85"/>
<line x1="503.88" y1="80.7" x2="490.44" y2="55.14" stroke="#10f0d0" stroke-width="0.75"/>
<line x1="502.42" y1="81.35" x2="488.1" y2="56.18" stroke="#18ff38" stroke-width="0.75"/>
<circle cx="490.1" cy="54.49" r="0.85" fill="#4a6cff" opacity="0.85"/>
<line x1="497.96" y1="83.67" x2="480.94" y2="59.91" stroke="#10f0d0" stroke-width="0.75"/>
<line x1="496.6" y1="84.49" x2="478.76" y2="61.22" stroke="#18ff38" stroke-width="0.75"/>
<circle cx="480.51" cy="59.3" r="0.85" fill="#4a6cff" opacity="0.85"/>
<line x1="492.52" y1="87.31" x2="472.2" y2="65.76" stroke="#10f0d0" stroke-width="0.75"/>
<line x1="491.29" y1="88.28" x2="470.24" y2="67.31" stroke="#18ff38" stroke-width="0.75"/>
<circle cx="471.69" cy="65.21" r="0.85" fill="#4a6cff" opacity="0.85"/>
<line x1="487.65" y1="91.56" x2="464.39" y2="72.58" stroke="#10f0d0" stroke-width="0.75"/>
<line x1="486.58" y1="92.67" x2="462.67" y2="74.35" stroke="#18ff38" stroke-width="0.75"/>
<circle cx="463.8" cy="72.1" r="0.85" fill="#4a6cff" opacity="0.85"/>
<line x1="483.44" y1="96.35" x2="457.63" y2="80.27" stroke="#10f0d0" stroke-width="0.75"/>
<line x1="482.54" y1="97.57" x2="456.18" y2="82.23" stroke="#18ff38" stroke-width="0.75"/>
<circle cx="456.98" cy="79.86" r="0.85" fill="#4a6cff" opacity="0.85"/>
<line x1="479.96" y1="101.59" x2="452.05" y2="88.68" stroke="#10f0d0" stroke-width="0.75"/>
<line x1="479.25" y1="102.91" x2="450.89" y2="90.8" stroke="#18ff38" stroke-width="0.75"/>
<circle cx="451.34" cy="88.36" r="0.85" fill="#4a6cff" opacity="0.85"/>
<line x1="477.27" y1="107.2" x2="447.73" y2="97.69" stroke="#10f0d0" stroke-width="0.75"/>
<line x1="476.75" y1="108.59" x2="446.89" y2="99.92" stroke="#18ff38" stroke-width="0.75"/>
<circle cx="446.98" cy="97.44" r="0.85" fill="#4a6cff" opacity="0.85"/>
<line x1="475.42" y1="113.07" x2="444.75" y2="107.12" stroke="#10f0d0" stroke-width="0.75"/>
<line x1="475.1" y1="114.51" x2="444.24" y2="109.43" stroke="#18ff38" stroke-width="0.75"/>
<circle cx="443.97" cy="106.97" r="0.85" fill="#4a6cff" opacity="0.85"/>
<line x1="474.43" y1="119.11" x2="443.16" y2="116.82" stroke="#10f0d0" stroke-width="0.75"/>
<line x1="474.32" y1="120.58" x2="442.99" y2="119.17" stroke="#18ff38" stroke-width="0.75"/>
<circle cx="442.36" cy="116.76" r="0.85" fill="#4a6cff" opacity="0.85"/>
<line x1="474.32" y1="125.22" x2="442.99" y2="126.63" stroke="#10f0d0" stroke-width="0.75"/>
<line x1="474.43" y1="126.69" x2="443.16" y2="128.98" stroke="#18ff38" stroke-width="0.75"/>
<circle cx="442.19" cy="126.66" r="0.85" fill="#4a6cff" opacity="0.85"/>
<line x1="475.1" y1="131.29" x2="444.24" y2="136.37" stroke="#10f0d0" stroke-width="0.75"/>
<line x1="475.42" y1="132.73" x2="444.75" y2="138.68" stroke="#18ff38" stroke-width="0.75"/>
<circle cx="443.45" cy="136.5" r="0.85" fill="#4a6cff" opacity="0.85"/>
<line x1="476.75" y1="137.21" x2="446.89" y2="145.88" stroke="#10f0d0" stroke-width="0.75"/>
<line x1="477.27" y1="138.6" x2="447.73" y2="148.11" stroke="#18ff38" stroke-width="0.75"/>
<circle cx="446.13" cy="146.1" r="0.85" fill="#4a6cff" opacity="0.85"/>
<line x1="479.25" y1="142.89" x2="450.89" y2="155" stroke="#10f0d0" stroke-width="0.75"/>
<line x1="479.96" y1="144.21" x2="452.05" y2="157.12" stroke="#18ff38" stroke-width="0.75"/>
<circle cx="450.17" cy="155.31" r="0.85" fill="#4a6cff" opacity="0.85"/>
<line x1="482.54" y1="148.23" x2="456.18" y2="163.57" stroke="#10f0d0" stroke-width="0.75"/>
<line x1="483.44" y1="149.45" x2="457.63" y2="165.53" stroke="#18ff38" stroke-width="0.75"/>
<circle cx="455.51" cy="163.96" r="0.85" fill="#4a6cff" opacity="0.85"/>
<line x1="486.58" y1="153.13" x2="462.67" y2="171.45" stroke="#10f0d0" stroke-width="0.75"/>
<line x1="487.65" y1="154.24" x2="464.39" y2="173.22" stroke="#18ff38" stroke-width="0.75"/>
<circle cx="462.06" cy="171.91" r="0.85" fill="#4a6cff" opacity="0.85"/>
<line x1="491.29" y1="157.52" x2="470.24" y2="178.49" stroke="#10f0d0" stroke-width="0.75"/>
<line x1="492.52" y1="158.49" x2="472.2" y2="180.04" stroke="#18ff38" stroke-width="0.75"/>
<circle cx="469.7" cy="179.02" r="0.85" fill="#4a6cff" opacity="0.85"/>
<line x1="496.6" y1="161.31" x2="478.76" y2="184.58" stroke="#10f0d0" stroke-width="0.75"/>
<line x1="497.96" y1="162.13" x2="480.94" y2="185.89" stroke="#18ff38" stroke-width="0.75"/>
<circle cx="478.31" cy="185.18" r="0.85" fill="#4a6cff" opacity="0.85"/>
<line x1="502.42" y1="164.45" x2="488.1" y2="189.62" stroke="#10f0d0" stroke-width="0.75"/>
<line x1="503.88" y1="165.1" x2="490.44" y2="190.66" stroke="#18ff38" stroke-width="0.75"/>
<circle cx="487.74" cy="190.26" r="0.85" fill="#4a6cff" opacity="0.85"/>
<line x1="508.63" y1="166.88" x2="498.08" y2="193.52" stroke="#10f0d0" stroke-width="0.75"/>
<line x1="510.17" y1="167.35" x2="500.56" y2="194.27" stroke="#18ff38" stroke-width="0.75"/>
<circle cx="497.82" cy="194.19" r="0.85" fill="#4a6cff" opacity="0.85"/>
<line x1="515.15" y1="168.55" x2="508.55" y2="196.2" stroke="#10f0d0" stroke-width="0.75"/>
<line x1="516.75" y1="168.84" x2="511.11" y2="196.66" stroke="#18ff38" stroke-width="0.75"/>
<circle cx="508.38" cy="196.91" r="0.85" fill="#4a6cff" opacity="0.85"/>
<line x1="521.85" y1="169.44" x2="519.31" y2="197.64" stroke="#10f0d0" stroke-width="0.75"/>
<line x1="523.47" y1="169.54" x2="521.91" y2="197.79" stroke="#18ff38" stroke-width="0.75"/>
<circle cx="519.24" cy="198.35" r="0.85" fill="#4a6cff" opacity="0.85"/>
<line x1="528.63" y1="169.54" x2="530.19" y2="197.79" stroke="#10f0d0" stroke-width="0.75"/>
<line x1="530.25" y1="169.44" x2="532.79" y2="197.64" stroke="#18ff38" stroke-width="0.75"/>
<circle cx="530.22" cy="198.51" r="0.85" fill="#4a6cff" opacity="0.85"/>
<line x1="535.35" y1="168.84" x2="540.99" y2="196.66" stroke="#10f0d0" stroke-width="0.75"/>
<line x1="536.95" y1="168.55" x2="543.55" y2="196.2" stroke="#18ff38" stroke-width="0.75"/>
<circle cx="541.13" cy="197.37" r="0.85" fill="#4a6cff" opacity="0.85"/>
<line x1="541.93" y1="167.35" x2="551.54" y2="194.27" stroke="#10f0d0" stroke-width="0.75"/>
<line x1="543.47" y1="166.88" x2="554.02" y2="193.52" stroke="#18ff38" stroke-width="0.75"/>
<circle cx="551.79" cy="194.96" r="0.85" fill="#4a6cff" opacity="0.85"/>
<line x1="548.22" y1="165.1" x2="561.66" y2="190.66" stroke="#10f0d0" stroke-width="0.75"/>
<line x1="549.68" y1="164.45" x2="564" y2="189.62" stroke="#18ff38" stroke-width="0.75"/>
<circle cx="562" cy="191.31" r="0.85" fill="#4a6cff" opacity="0.85"/>
<line x1="554.14" y1="162.13" x2="571.16" y2="185.89" stroke="#10f0d0" stroke-width="0.75"/>
<line x1="555.5" y1="161.31" x2="573.34" y2="184.58" stroke="#18ff38" stroke-width="0.75"/>
<circle cx="571.59" cy="186.5" r="0.85" fill="#4a6cff" opacity="0.85"/>
<line x1="559.58" y1="158.49" x2="579.9" y2="180.04" stroke="#10f0d0" stroke-width="0.75"/>
<line x1="560.81" y1="157.52" x2="581.86" y2="178.49" stroke="#18ff38" stroke-width="0.75"/>
<circle cx="580.41" cy="180.59" r="0.85" fill="#4a6cff" opacity="0.85"/>
<line x1="564.45" y1="154.24" x2="587.71" y2="173.22" stroke="#10f0d0" stroke-width="0.75"/>
<line x1="565.52" y1="153.13" x2="589.43" y2="171.45" stroke="#18ff38" stroke-width="0.75"/>
<circle cx="588.3" cy="173.7" r="0.85" fill="#4a6cff" opacity="0.85"/>
<line x1="568.66" y1="149.45" x2="594.47" y2="165.53" stroke="#10f0d0" stroke-width="0.75"/>
<line x1="569.56" y1="148.23" x2="595.92" y2="163.57" stroke="#18ff38" stroke-width="0.75"/>
<circle cx="595.12" cy="165.94" r="0.85" fill="#4a6cff" opacity="0.85"/>
<line x1="572.14" y1="144.21" x2="600.05" y2="157.12" stroke="#10f0d0" stroke-width="0.75"/>
<line x1="572.85" y1="142.89" x2="601.21" y2="155" stroke="#18ff38" stroke-width="0.75"/>
<circle cx="600.76" cy="157.44" r="0.85" fill="#4a6cff" opacity="0.85"/>
<line x1="574.83" y1="138.6" x2="604.37" y2="148.11" stroke="#10f0d0" stroke-width="0.75"/>
<line x1="575.35" y1="137.21" x2="605.21" y2="145.88" stroke="#18ff38" stroke-width="0.75"/>
<circle cx="605.12" cy="148.36" r="0.85" fill="#4a6cff" opacity="0.85"/>
<line x1="576.68" y1="132.73" x2="607.35" y2="138.68" stroke="#10f0d0" stroke-width="0.75"/>
<line x1="577" y1="131.29" x2="607.86" y2="136.37" stroke="#18ff38" stroke-width="0.75"/>
<circle cx="608.13" cy="138.83" r="0.85" fill="#4a6cff" opacity="0.85"/>
<line x1="577.67" y1="126.69" x2="608.94" y2="128.98" stroke="#10f0d0" stroke-width="0.75"/>
<line x1="577.78" y1="125.22" x2="609.11" y2="126.63" stroke="#18ff38" stroke-width="0.75"/>
<circle cx="609.74" cy="129.04" r="0.85" fill="#4a6cff" opacity="0.85"/>
<circle cx="594.74" cy="120.87" r="0.75" fill="#4a78ff" opacity="0.75"/>
<circle cx="593.86" cy="112.81" r="0.75" fill="#4a78ff" opacity="0.75"/>
<circle cx="591.81" cy="104.91" r="0.75" fill="#4a78ff" opacity="0.75"/>
<circle cx="588.65" cy="97.33" r="0.75" fill="#4a78ff" opacity="0.75"/>
<circle cx="584.41" cy="90.18" r="0.75" fill="#4a78ff" opacity="0.75"/>
<circle cx="579.17" cy="83.59" r="0.75" fill="#4a78ff" opacity="0.75"/>
<circle cx="573.03" cy="77.68" r="0.75" fill="#4a78ff" opacity="0.75"/>
<circle cx="566.08" cy="72.53" r="0.75" fill="#4a78ff" opacity="0.75"/>
<circle cx="558.45" cy="68.25" r="0.75" fill="#4a78ff" opacity="0.75"/>
<circle cx="550.26" cy="64.91" r="0.75" fill="#4a78ff" opacity="0.75"/>
<circle cx="541.66" cy="62.56" r="0.75" fill="#4a78ff" opacity="0.75"/>
<circle cx="532.79" cy="61.24" r="0.75" fill="#4a78ff" opacity="0.75"/>
<circle cx="523.8" cy="60.97" r="0.75" fill="#4a78ff" opacity="0.75"/>
<circle cx="514.86" cy="61.77" r="0.75" fill="#4a78ff" opacity="0.75"/>
<circle cx="506.1" cy="63.61" r="0.75" fill="#4a78ff" opacity="0.75"/>
<circle cx="497.69" cy="66.46" r="0.75" fill="#4a78ff" opacity="0.75"/>
<circle cx="489.76" cy="70.28" r="0.75" fill="#4a78ff" opacity="0.75"/>
<circle cx="482.45" cy="75" r="0.75" fill="#4a78ff" opacity="0.75"/>
<circle cx="472.93" cy="83.59" r="0.75" fill="#4a78ff" opacity="0.75"/>
<circle cx="467.69" cy="90.18" r="0.75" fill="#4a78ff" opacity="0.75"/>
<circle cx="463.45" cy="97.33" r="0.75" fill="#4a78ff" opacity="0.75"/>
<circle cx="460.29" cy="104.91" r="0.75" fill="#4a78ff" opacity="0.75"/>
<circle cx="458.24" cy="112.81" r="0.75" fill="#4a78ff" opacity="0.75"/>
<circle cx="457.36" cy="120.87" r="0.75" fill="#4a78ff" opacity="0.75"/>
<circle cx="457.66" cy="128.97" r="0.75" fill="#4a78ff" opacity="0.75"/>
<circle cx="459.12" cy="136.97" r="0.75" fill="#4a78ff" opacity="0.75"/>
<circle cx="461.73" cy="144.73" r="0.75" fill="#4a78ff" opacity="0.75"/>
<circle cx="465.44" cy="152.11" r="0.75" fill="#4a78ff" opacity="0.75"/>
<circle cx="470.19" cy="158.99" r="0.75" fill="#4a78ff" opacity="0.75"/>
<circle cx="475.89" cy="165.26" r="0.75" fill="#4a78ff" opacity="0.75"/>
<circle cx="482.45" cy="170.8" r="0.75" fill="#4a78ff" opacity="0.75"/>
<circle cx="489.76" cy="175.52" r="0.75" fill="#4a78ff" opacity="0.75"/>
<circle cx="497.69" cy="179.34" r="0.75" fill="#4a78ff" opacity="0.75"/>
<circle cx="506.1" cy="182.19" r="0.75" fill="#4a78ff" opacity="0.75"/>
<circle cx="514.86" cy="184.03" r="0.75" fill="#4a78ff" opacity="0.75"/>
<circle cx="523.8" cy="184.83" r="0.75" fill="#4a78ff" opacity="0.75"/>
<circle cx="532.79" cy="184.56" r="0.75" fill="#4a78ff" opacity="0.75"/>
<circle cx="541.66" cy="183.24" r="0.75" fill="#4a78ff" opacity="0.75"/>
<circle cx="550.26" cy="180.89" r="0.75" fill="#4a78ff" opacity="0.75"/>
<circle cx="558.45" cy="177.55" r="0.75" fill="#4a78ff" opacity="0.75"/>
<circle cx="566.08" cy="173.27" r="0.75" fill="#4a78ff" opacity="0.75"/>
<circle cx="573.03" cy="168.12" r="0.75" fill="#4a78ff" opacity="0.75"/>
<circle cx="576.21" cy="165.26" r="0.75" fill="#4a78ff" opacity="0.75"/>
<circle cx="581.91" cy="158.99" r="0.75" fill="#4a78ff" opacity="0.75"/>
<circle cx="586.66" cy="152.11" r="0.75" fill="#4a78ff" opacity="0.75"/>
<circle cx="590.37" cy="144.73" r="0.75" fill="#4a78ff" opacity="0.75"/>
<circle cx="592.98" cy="136.97" r="0.75" fill="#4a78ff" opacity="0.75"/>
<circle cx="594.44" cy="128.97" r="0.75" fill="#4a78ff" opacity="0.75"/>
<circle cx="560.14" cy="120.89" r="1.3" fill="#2c4cff"/>
<circle cx="577.73" cy="119.85" r="1.25" fill="#3050ff"/>
<circle cx="567.83" cy="122.9" r="1.05" fill="#3468ff" opacity="0.85"/>
<circle cx="559.56" cy="116.89" r="1.3" fill="#2c4cff"/>
<circle cx="576.85" cy="113.79" r="1.25" fill="#3050ff"/>
<circle cx="567.47" cy="117.98" r="1.05" fill="#3468ff" opacity="0.85"/>
<circle cx="558.4" cy="113" r="1.3" fill="#2c4cff"/>
<circle cx="575.09" cy="107.89" r="1.25" fill="#3050ff"/>
<circle cx="566.41" cy="113.15" r="1.05" fill="#3468ff" opacity="0.85"/>
<circle cx="556.69" cy="109.28" r="1.3" fill="#2c4cff"/>
<circle cx="572.5" cy="102.25" r="1.25" fill="#3050ff"/>
<circle cx="564.65" cy="108.48" r="1.05" fill="#3468ff" opacity="0.85"/>
<circle cx="554.46" cy="105.79" r="1.3" fill="#2c4cff"/>
<circle cx="569.11" cy="96.96" r="1.25" fill="#3050ff"/>
<circle cx="562.23" cy="104.06" r="1.05" fill="#3468ff" opacity="0.85"/>
<circle cx="551.73" cy="102.59" r="1.3" fill="#2c4cff"/>
<circle cx="564.99" cy="92.11" r="1.25" fill="#3050ff"/>
<circle cx="559.2" cy="99.97" r="1.05" fill="#3468ff" opacity="0.85"/>
<circle cx="548.58" cy="99.74" r="1.3" fill="#2c4cff"/>
<circle cx="560.2" cy="87.79" r="1.25" fill="#3050ff"/>
<circle cx="555.59" cy="96.26" r="1.05" fill="#3468ff" opacity="0.85"/>
<circle cx="545.03" cy="97.29" r="1.3" fill="#2c4cff"/>
<circle cx="554.82" cy="84.07" r="1.25" fill="#3050ff"/>
<circle cx="551.49" cy="93.01" r="1.05" fill="#3468ff" opacity="0.85"/>
<circle cx="541.16" cy="95.28" r="1.3" fill="#2c4cff"/>
<circle cx="548.96" cy="81.02" r="1.25" fill="#3050ff"/>
<circle cx="546.94" cy="90.28" r="1.05" fill="#3468ff" opacity="0.85"/>
<circle cx="537.03" cy="93.73" r="1.3" fill="#2c4cff"/>
<circle cx="542.7" cy="78.68" r="1.25" fill="#3050ff"/>
<circle cx="542.04" cy="88.1" r="1.05" fill="#3468ff" opacity="0.85"/>
<circle cx="532.71" cy="92.69" r="1.3" fill="#2c4cff"/>
<circle cx="536.15" cy="77.1" r="1.25" fill="#3050ff"/>
<circle cx="536.86" cy="86.51" r="1.05" fill="#3468ff" opacity="0.85"/>
<circle cx="528.28" cy="92.16" r="1.3" fill="#2c4cff"/>
<circle cx="529.44" cy="76.3" r="1.25" fill="#3050ff"/>
<circle cx="531.5" cy="85.55" r="1.05" fill="#3468ff" opacity="0.85"/>
<circle cx="523.82" cy="92.16" r="1.3" fill="#2c4cff"/>
<circle cx="522.66" cy="76.3" r="1.25" fill="#3050ff"/>
<circle cx="526.05" cy="85.23" r="1.05" fill="#3468ff" opacity="0.85"/>
<circle cx="519.39" cy="92.69" r="1.3" fill="#2c4cff"/>
<circle cx="515.95" cy="77.1" r="1.25" fill="#3050ff"/>
<circle cx="520.6" cy="85.55" r="1.05" fill="#3468ff" opacity="0.85"/>
<circle cx="515.07" cy="93.73" r="1.3" fill="#2c4cff"/>
<circle cx="509.4" cy="78.68" r="1.25" fill="#3050ff"/>
<circle cx="515.24" cy="86.51" r="1.05" fill="#3468ff" opacity="0.85"/>
<circle cx="510.94" cy="95.28" r="1.3" fill="#2c4cff"/>
<circle cx="503.14" cy="81.02" r="1.25" fill="#3050ff"/>
<circle cx="510.06" cy="88.1" r="1.05" fill="#3468ff" opacity="0.85"/>
<circle cx="507.07" cy="97.29" r="1.3" fill="#2c4cff"/>
<circle cx="497.28" cy="84.07" r="1.25" fill="#3050ff"/>
<circle cx="505.16" cy="90.28" r="1.05" fill="#3468ff" opacity="0.85"/>
<circle cx="503.52" cy="99.74" r="1.3" fill="#2c4cff"/>
<circle cx="491.9" cy="87.79" r="1.25" fill="#3050ff"/>
<circle cx="500.61" cy="93.01" r="1.05" fill="#3468ff" opacity="0.85"/>
<circle cx="500.37" cy="102.59" r="1.3" fill="#2c4cff"/>
<circle cx="487.11" cy="92.11" r="1.25" fill="#3050ff"/>
<circle cx="496.51" cy="96.26" r="1.05" fill="#3468ff" opacity="0.85"/>
<circle cx="497.64" cy="105.79" r="1.3" fill="#2c4cff"/>
<circle cx="482.99" cy="96.96" r="1.25" fill="#3050ff"/>
<circle cx="492.9" cy="99.97" r="1.05" fill="#3468ff" opacity="0.85"/>
<circle cx="495.41" cy="109.28" r="1.3" fill="#2c4cff"/>
<circle cx="479.6" cy="102.25" r="1.25" fill="#3050ff"/>
<circle cx="489.87" cy="104.06" r="1.05" fill="#3468ff" opacity="0.85"/>
<circle cx="493.7" cy="113" r="1.3" fill="#2c4cff"/>
<circle cx="477.01" cy="107.89" r="1.25" fill="#3050ff"/>
<circle cx="487.45" cy="108.48" r="1.05" fill="#3468ff" opacity="0.85"/>
<circle cx="492.54" cy="116.89" r="1.3" fill="#2c4cff"/>
<circle cx="475.25" cy="113.79" r="1.25" fill="#3050ff"/>
<circle cx="485.69" cy="113.15" r="1.05" fill="#3468ff" opacity="0.85"/>
<circle cx="491.96" cy="120.89" r="1.3" fill="#2c4cff"/>
<circle cx="474.37" cy="119.85" r="1.25" fill="#3050ff"/>
<circle cx="484.63" cy="117.98" r="1.05" fill="#3468ff" opacity="0.85"/>
<circle cx="491.96" cy="124.91" r="1.3" fill="#2c4cff"/>
<circle cx="474.37" cy="125.95" r="1.25" fill="#3050ff"/>
<circle cx="484.27" cy="122.9" r="1.05" fill="#3468ff" opacity="0.85"/>
<circle cx="492.54" cy="128.91" r="1.3" fill="#2c4cff"/>
<circle cx="475.25" cy="132.01" r="1.25" fill="#3050ff"/>
<circle cx="484.63" cy="127.82" r="1.05" fill="#3468ff" opacity="0.85"/>
<circle cx="493.7" cy="132.8" r="1.3" fill="#2c4cff"/>
<circle cx="477.01" cy="137.91" r="1.25" fill="#3050ff"/>
<circle cx="485.69" cy="132.65" r="1.05" fill="#3468ff" opacity="0.85"/>
<circle cx="495.41" cy="136.52" r="1.3" fill="#2c4cff"/>
<circle cx="479.6" cy="143.55" r="1.25" fill="#3050ff"/>
<circle cx="487.45" cy="137.32" r="1.05" fill="#3468ff" opacity="0.85"/>
<circle cx="497.64" cy="140.01" r="1.3" fill="#2c4cff"/>
<circle cx="482.99" cy="148.84" r="1.25" fill="#3050ff"/>
<circle cx="489.87" cy="141.74" r="1.05" fill="#3468ff" opacity="0.85"/>
<circle cx="500.37" cy="143.21" r="1.3" fill="#2c4cff"/>
<circle cx="487.11" cy="153.69" r="1.25" fill="#3050ff"/>
<circle cx="492.9" cy="145.83" r="1.05" fill="#3468ff" opacity="0.85"/>
<circle cx="503.52" cy="146.06" r="1.3" fill="#2c4cff"/>
<circle cx="491.9" cy="158.01" r="1.25" fill="#3050ff"/>
<circle cx="496.51" cy="149.54" r="1.05" fill="#3468ff" opacity="0.85"/>
<circle cx="507.07" cy="148.51" r="1.3" fill="#2c4cff"/>
<circle cx="497.28" cy="161.73" r="1.25" fill="#3050ff"/>
<circle cx="500.61" cy="152.79" r="1.05" fill="#3468ff" opacity="0.85"/>
<circle cx="510.94" cy="150.52" r="1.3" fill="#2c4cff"/>
<circle cx="503.14" cy="164.78" r="1.25" fill="#3050ff"/>
<circle cx="505.16" cy="155.52" r="1.05" fill="#3468ff" opacity="0.85"/>
<circle cx="515.07" cy="152.07" r="1.3" fill="#2c4cff"/>
<circle cx="509.4" cy="167.12" r="1.25" fill="#3050ff"/>
<circle cx="510.06" cy="157.7" r="1.05" fill="#3468ff" opacity="0.85"/>
<circle cx="519.39" cy="153.11" r="1.3" fill="#2c4cff"/>
<circle cx="515.95" cy="168.7" r="1.25" fill="#3050ff"/>
<circle cx="515.24" cy="159.29" r="1.05" fill="#3468ff" opacity="0.85"/>
<circle cx="523.82" cy="153.64" r="1.3" fill="#2c4cff"/>
<circle cx="522.66" cy="169.5" r="1.25" fill="#3050ff"/>
<circle cx="520.6" cy="160.25" r="1.05" fill="#3468ff" opacity="0.85"/>
<circle cx="528.28" cy="153.64" r="1.3" fill="#2c4cff"/>
<circle cx="529.44" cy="169.5" r="1.25" fill="#3050ff"/>
<circle cx="526.05" cy="160.57" r="1.05" fill="#3468ff" opacity="0.85"/>
<circle cx="532.71" cy="153.11" r="1.3" fill="#2c4cff"/>
<circle cx="536.15" cy="168.7" r="1.25" fill="#3050ff"/>
<circle cx="531.5" cy="160.25" r="1.05" fill="#3468ff" opacity="0.85"/>
<circle cx="537.03" cy="152.07" r="1.3" fill="#2c4cff"/>
<circle cx="542.7" cy="167.12" r="1.25" fill="#3050ff"/>
<circle cx="536.86" cy="159.29" r="1.05" fill="#3468ff" opacity="0.85"/>
<circle cx="541.16" cy="150.52" r="1.3" fill="#2c4cff"/>
<circle cx="548.96" cy="164.78" r="1.25" fill="#3050ff"/>
<circle cx="542.04" cy="157.7" r="1.05" fill="#3468ff" opacity="0.85"/>
<circle cx="545.03" cy="148.51" r="1.3" fill="#2c4cff"/>
<circle cx="554.82" cy="161.73" r="1.25" fill="#3050ff"/>
<circle cx="546.94" cy="155.52" r="1.05" fill="#3468ff" opacity="0.85"/>
<circle cx="548.58" cy="146.06" r="1.3" fill="#2c4cff"/>
<circle cx="560.2" cy="158.01" r="1.25" fill="#3050ff"/>
<circle cx="551.49" cy="152.79" r="1.05" fill="#3468ff" opacity="0.85"/>
<circle cx="551.73" cy="143.21" r="1.3" fill="#2c4cff"/>
<circle cx="564.99" cy="153.69" r="1.25" fill="#3050ff"/>
<circle cx="555.59" cy="149.54" r="1.05" fill="#3468ff" opacity="0.85"/>
<circle cx="554.46" cy="140.01" r="1.3" fill="#2c4cff"/>
<circle cx="569.11" cy="148.84" r="1.25" fill="#3050ff"/>
<circle cx="559.2" cy="145.83" r="1.05" fill="#3468ff" opacity="0.85"/>
<circle cx="556.69" cy="136.52" r="1.3" fill="#2c4cff"/>
<circle cx="572.5" cy="143.55" r="1.25" fill="#3050ff"/>
<circle cx="562.23" cy="141.74" r="1.05" fill="#3468ff" opacity="0.85"/>
<circle cx="558.4" cy="132.8" r="1.3" fill="#2c4cff"/>
<circle cx="575.09" cy="137.91" r="1.25" fill="#3050ff"/>
<circle cx="564.65" cy="137.32" r="1.05" fill="#3468ff" opacity="0.85"/>
<circle cx="559.56" cy="128.91" r="1.3" fill="#2c4cff"/>
<circle cx="576.85" cy="132.01" r="1.25" fill="#3050ff"/>
<circle cx="566.41" cy="132.65" r="1.05" fill="#3468ff" opacity="0.85"/>
<circle cx="560.14" cy="124.91" r="1.3" fill="#2c4cff"/>
<circle cx="577.73" cy="125.95" r="1.25" fill="#3050ff"/>
<circle cx="567.47" cy="127.82" r="1.05" fill="#3468ff" opacity="0.85"/>
<circle cx="557.62" cy="122.9" r="0.8" fill="#3560ff" opacity="0.8"/>
<circle cx="557.56" cy="121.04" r="0.8" fill="#3560ff" opacity="0.8"/>
<circle cx="557.35" cy="119.18" r="0.8" fill="#3560ff" opacity="0.8"/>
<circle cx="557.02" cy="117.35" r="0.8" fill="#3560ff" opacity="0.8"/>
<circle cx="556.55" cy="115.53" r="0.8" fill="#3560ff" opacity="0.8"/>
<circle cx="555.95" cy="113.75" r="0.8" fill="#3560ff" opacity="0.8"/>
<circle cx="555.22" cy="112.01" r="0.8" fill="#3560ff" opacity="0.8"/>
<circle cx="554.37" cy="110.31" r="0.8" fill="#3560ff" opacity="0.8"/>
<circle cx="553.39" cy="108.67" r="0.8" fill="#3560ff" opacity="0.8"/>
<circle cx="552.3" cy="107.08" r="0.8" fill="#3560ff" opacity="0.8"/>
<circle cx="551.1" cy="105.57" r="0.8" fill="#3560ff" opacity="0.8"/>
<circle cx="549.79" cy="104.13" r="0.8" fill="#3560ff" opacity="0.8"/>
<circle cx="548.38" cy="102.77" r="0.8" fill="#3560ff" opacity="0.8"/>
<circle cx="546.87" cy="101.5" r="0.8" fill="#3560ff" opacity="0.8"/>
<circle cx="545.27" cy="100.32" r="0.8" fill="#3560ff" opacity="0.8"/>
<circle cx="543.59" cy="99.23" r="0.8" fill="#3560ff" opacity="0.8"/>
<circle cx="541.84" cy="98.25" r="0.8" fill="#3560ff" opacity="0.8"/>
<circle cx="540.01" cy="97.37" r="0.8" fill="#3560ff" opacity="0.8"/>
<circle cx="538.13" cy="96.6" r="0.8" fill="#3560ff" opacity="0.8"/>
<circle cx="536.2" cy="95.94" r="0.8" fill="#3560ff" opacity="0.8"/>
<circle cx="534.22" cy="95.4" r="0.8" fill="#3560ff" opacity="0.8"/>
<circle cx="532.21" cy="94.98" r="0.8" fill="#3560ff" opacity="0.8"/>
<circle cx="530.17" cy="94.68" r="0.8" fill="#3560ff" opacity="0.8"/>
<circle cx="528.11" cy="94.49" r="0.8" fill="#3560ff" opacity="0.8"/>
<circle cx="526.05" cy="94.43" r="0.8" fill="#3560ff" opacity="0.8"/>
<circle cx="523.99" cy="94.49" r="0.8" fill="#3560ff" opacity="0.8"/>
<circle cx="521.93" cy="94.68" r="0.8" fill="#3560ff" opacity="0.8"/>
<circle cx="519.89" cy="94.98" r="0.8" fill="#3560ff" opacity="0.8"/>
<circle cx="517.88" cy="95.4" r="0.8" fill="#3560ff" opacity="0.8"/>
<circle cx="515.9" cy="95.94" r="0.8" fill="#3560ff" opacity="0.8"/>
<circle cx="513.97" cy="96.6" r="0.8" fill="#3560ff" opacity="0.8"/>
<circle cx="512.09" cy="97.37" r="0.8" fill="#3560ff" opacity="0.8"/>
<circle cx="510.26" cy="98.25" r="0.8" fill="#3560ff" opacity="0.8"/>
<circle cx="508.51" cy="99.23" r="0.8" fill="#3560ff" opacity="0.8"/>
<circle cx="506.83" cy="100.32" r="0.8" fill="#3560ff" opacity="0.8"/>
<circle cx="505.23" cy="101.5" r="0.8" fill="#3560ff" opacity="0.8"/>
<circle cx="503.72" cy="102.77" r="0.8" fill="#3560ff" opacity="0.8"/>
<circle cx="502.31" cy="104.13" r="0.8" fill="#3560ff" opacity="0.8"/>
<circle cx="501" cy="105.57" r="0.8" fill="#3560ff" opacity="0.8"/>
<circle cx="499.8" cy="107.08" r="0.8" fill="#3560ff" opacity="0.8"/>
<circle cx="498.71" cy="108.67" r="0.8" fill="#3560ff" opacity="0.8"/>
<circle cx="497.73" cy="110.31" r="0.8" fill="#3560ff" opacity="0.8"/>
<circle cx="496.88" cy="112.01" r="0.8" fill="#3560ff" opacity="0.8"/>
<circle cx="496.15" cy="113.75" r="0.8" fill="#3560ff" opacity="0.8"/>
<circle cx="495.55" cy="115.53" r="0.8" fill="#3560ff" opacity="0.8"/>
<circle cx="495.08" cy="117.35" r="0.8" fill="#3560ff" opacity="0.8"/>
<circle cx="494.75" cy="119.18" r="0.8" fill="#3560ff" opacity="0.8"/>
<circle cx="494.54" cy="121.04" r="0.8" fill="#3560ff" opacity="0.8"/>
<circle cx="494.48" cy="122.9" r="0.8" fill="#3560ff" opacity="0.8"/>
<circle cx="494.54" cy="124.76" r="0.8" fill="#3560ff" opacity="0.8"/>
<circle cx="494.75" cy="126.62" r="0.8" fill="#3560ff" opacity="0.8"/>
<circle cx="495.08" cy="128.45" r="0.8" fill="#3560ff" opacity="0.8"/>
<circle cx="495.55" cy="130.27" r="0.8" fill="#3560ff" opacity="0.8"/>
<circle cx="496.15" cy="132.05" r="0.8" fill="#3560ff" opacity="0.8"/>
<circle cx="496.88" cy="133.79" r="0.8" fill="#3560ff" opacity="0.8"/>
<circle cx="497.73" cy="135.49" r="0.8" fill="#3560ff" opacity="0.8"/>
<circle cx="498.71" cy="137.13" r="0.8" fill="#3560ff" opacity="0.8"/>
<circle cx="499.8" cy="138.72" r="0.8" fill="#3560ff" opacity="0.8"/>
<circle cx="501" cy="140.23" r="0.8" fill="#3560ff" opacity="0.8"/>
<circle cx="502.31" cy="141.67" r="0.8" fill="#3560ff" opacity="0.8"/>
<circle cx="503.72" cy="143.03" r="0.8" fill="#3560ff" opacity="0.8"/>
<circle cx="505.23" cy="144.3" r="0.8" fill="#3560ff" opacity="0.8"/>
<circle cx="506.83" cy="145.48" r="0.8" fill="#3560ff" opacity="0.8"/>
<circle cx="508.51" cy="146.57" r="0.8" fill="#3560ff" opacity="0.8"/>
<circle cx="510.26" cy="147.55" r="0.8" fill="#3560ff" opacity="0.8"/>
<circle cx="512.09" cy="148.43" r="0.8" fill="#3560ff" opacity="0.8"/>
<circle cx="513.97" cy="149.2" r="0.8" fill="#3560ff" opacity="0.8"/>
<circle cx="515.9" cy="149.86" r="0.8" fill="#3560ff" opacity="0.8"/>
<circle cx="517.88" cy="150.4" r="0.8" fill="#3560ff" opacity="0.8"/>
<circle cx="519.89" cy="150.82" r="0.8" fill="#3560ff" opacity="0.8"/>
<circle cx="521.93" cy="151.12" r="0.8" fill="#3560ff" opacity="0.8"/>
<circle cx="523.99" cy="151.31" r="0.8" fill="#3560ff" opacity="0.8"/>
<circle cx="526.05" cy="151.37" r="0.8" fill="#3560ff" opacity="0.8"/>
<circle cx="528.11" cy="151.31" r="0.8" fill="#3560ff" opacity="0.8"/>
<circle cx="530.17" cy="151.12" r="0.8" fill="#3560ff" opacity="0.8"/>
<circle cx="532.21" cy="150.82" r="0.8" fill="#3560ff" opacity="0.8"/>
<circle cx="534.22" cy="150.4" r="0.8" fill="#3560ff" opacity="0.8"/>
<circle cx="536.2" cy="149.86" r="0.8" fill="#3560ff" opacity="0.8"/>
<circle cx="538.13" cy="149.2" r="0.8" fill="#3560ff" opacity="0.8"/>
<circle cx="540.01" cy="148.43" r="0.8" fill="#3560ff" opacity="0.8"/>
<circle cx="541.84" cy="147.55" r="0.8" fill="#3560ff" opacity="0.8"/>
<circle cx="543.59" cy="146.57" r="0.8" fill="#3560ff" opacity="0.8"/>
<circle cx="545.27" cy="145.48" r="0.8" fill="#3560ff" opacity="0.8"/>
<circle cx="546.87" cy="144.3" r="0.8" fill="#3560ff" opacity="0.8"/>
<circle cx="548.38" cy="143.03" r="0.8" fill="#3560ff" opacity="0.8"/>
<circle cx="549.79" cy="141.67" r="0.8" fill="#3560ff" opacity="0.8"/>
<circle cx="551.1" cy="140.23" r="0.8" fill="#3560ff" opacity="0.8"/>
<circle cx="552.3" cy="138.72" r="0.8" fill="#3560ff" opacity="0.8"/>
<circle cx="553.39" cy="137.13" r="0.8" fill="#3560ff" opacity="0.8"/>
<circle cx="554.37" cy="135.49" r="0.8" fill="#3560ff" opacity="0.8"/>
<circle cx="555.22" cy="133.79" r="0.8" fill="#3560ff" opacity="0.8"/>
<circle cx="555.95" cy="132.05" r="0.8" fill="#3560ff" opacity="0.8"/>
<circle cx="556.55" cy="130.27" r="0.8" fill="#3560ff" opacity="0.8"/>
<circle cx="557.02" cy="128.45" r="0.8" fill="#3560ff" opacity="0.8"/>
<circle cx="557.35" cy="126.62" r="0.8" fill="#3560ff" opacity="0.8"/>
<circle cx="557.56" cy="124.76" r="0.8" fill="#3560ff" opacity="0.8"/>
<ellipse cx="526.05" cy="122.9" rx="29.58" ry="26.67" fill="url(#disc)"/>
<line x1="526.05" y1="118.86" x2="526.05" y2="96.41" stroke="#48e020" stroke-width="0.85" opacity="0.6"/>
<line x1="526.05" y1="139.96" x2="526.05" y2="149.39" stroke="#48e020" stroke-width="0.85" opacity="0.35"/>
<line x1="529.81" y1="120.7" x2="550.69" y2="108.47" stroke="#48e020" stroke-width="0.85" opacity="0.45"/>
<line x1="544.97" y1="122.9" x2="555.43" y2="122.9" stroke="#48e020" stroke-width="0.85" opacity="0.3"/>
<line x1="521.57" y1="122.9" x2="496.67" y2="122.9" stroke="#48e020" stroke-width="0.85" opacity="0.4"/>
<line x1="510.18" y1="132.19" x2="501.41" y2="137.33" stroke="#48e020" stroke-width="0.85" opacity="0.25"/>
<line x1="511.55" y1="111.93" x2="503.54" y2="105.87" stroke="#48e020" stroke-width="0.85" opacity="0.2"/>
<line x1="540.55" y1="133.87" x2="548.56" y2="139.93" stroke="#48e020" stroke-width="0.85" opacity="0.2"/>
<line x1="528.03" y1="105.93" x2="529.12" y2="96.55" stroke="#48e020" stroke-width="0.85" opacity="0.3"/>
<line x1="524.07" y1="105.93" x2="522.98" y2="96.55" stroke="#48e020" stroke-width="0.85" opacity="0.3"/>
<line x1="529.98" y1="106.21" x2="532.16" y2="96.99" stroke="#48e020" stroke-width="0.85" opacity="0.2"/>
<line x1="522.12" y1="106.21" x2="519.94" y2="96.99" stroke="#48e020" stroke-width="0.85" opacity="0.2"/>
</g>
<rect x="411.5" y="19.7" width="229.1" height="206.4" fill="none" stroke="#767676" stroke-width="1"/>
<line x1="416.49" y1="226.1" x2="416.49" y2="223.4" stroke="#767676" stroke-width="1"/>
<line x1="416.49" y1="19.7" x2="416.49" y2="21.32" stroke="#767676" stroke-width="0.9"/>
<line x1="411.5" y1="221.68" x2="414.2" y2="221.68" stroke="#767676" stroke-width="1"/>
<line x1="640.6" y1="221.68" x2="637.9" y2="221.68" stroke="#767676" stroke-width="1"/>
<line x1="426.45" y1="226.1" x2="426.45" y2="220.9" stroke="#767676" stroke-width="1"/>
<line x1="426.45" y1="19.7" x2="426.45" y2="22.82" stroke="#767676" stroke-width="0.9"/>
<line x1="411.5" y1="212.7" x2="416.7" y2="212.7" stroke="#767676" stroke-width="1"/>
<line x1="640.6" y1="212.7" x2="635.4" y2="212.7" stroke="#767676" stroke-width="1"/>
<line x1="436.41" y1="226.1" x2="436.41" y2="223.4" stroke="#767676" stroke-width="1"/>
<line x1="436.41" y1="19.7" x2="436.41" y2="21.32" stroke="#767676" stroke-width="0.9"/>
<line x1="411.5" y1="203.72" x2="414.2" y2="203.72" stroke="#767676" stroke-width="1"/>
<line x1="640.6" y1="203.72" x2="637.9" y2="203.72" stroke="#767676" stroke-width="1"/>
<line x1="446.37" y1="226.1" x2="446.37" y2="223.4" stroke="#767676" stroke-width="1"/>
<line x1="446.37" y1="19.7" x2="446.37" y2="21.32" stroke="#767676" stroke-width="0.9"/>
<line x1="411.5" y1="194.74" x2="414.2" y2="194.74" stroke="#767676" stroke-width="1"/>
<line x1="640.6" y1="194.74" x2="637.9" y2="194.74" stroke="#767676" stroke-width="1"/>
<line x1="456.33" y1="226.1" x2="456.33" y2="223.4" stroke="#767676" stroke-width="1"/>
<line x1="456.33" y1="19.7" x2="456.33" y2="21.32" stroke="#767676" stroke-width="0.9"/>
<line x1="411.5" y1="185.76" x2="414.2" y2="185.76" stroke="#767676" stroke-width="1"/>
<line x1="640.6" y1="185.76" x2="637.9" y2="185.76" stroke="#767676" stroke-width="1"/>
<line x1="466.29" y1="226.1" x2="466.29" y2="223.4" stroke="#767676" stroke-width="1"/>
<line x1="466.29" y1="19.7" x2="466.29" y2="21.32" stroke="#767676" stroke-width="0.9"/>
<line x1="411.5" y1="176.78" x2="414.2" y2="176.78" stroke="#767676" stroke-width="1"/>
<line x1="640.6" y1="176.78" x2="637.9" y2="176.78" stroke="#767676" stroke-width="1"/>
<line x1="476.25" y1="226.1" x2="476.25" y2="220.9" stroke="#767676" stroke-width="1"/>
<line x1="476.25" y1="19.7" x2="476.25" y2="22.82" stroke="#767676" stroke-width="0.9"/>
<line x1="411.5" y1="167.8" x2="416.7" y2="167.8" stroke="#767676" stroke-width="1"/>
<line x1="640.6" y1="167.8" x2="635.4" y2="167.8" stroke="#767676" stroke-width="1"/>
<line x1="486.21" y1="226.1" x2="486.21" y2="223.4" stroke="#767676" stroke-width="1"/>
<line x1="486.21" y1="19.7" x2="486.21" y2="21.32" stroke="#767676" stroke-width="0.9"/>
<line x1="411.5" y1="158.82" x2="414.2" y2="158.82" stroke="#767676" stroke-width="1"/>
<line x1="640.6" y1="158.82" x2="637.9" y2="158.82" stroke="#767676" stroke-width="1"/>
<line x1="496.17" y1="226.1" x2="496.17" y2="223.4" stroke="#767676" stroke-width="1"/>
<line x1="496.17" y1="19.7" x2="496.17" y2="21.32" stroke="#767676" stroke-width="0.9"/>
<line x1="411.5" y1="149.84" x2="414.2" y2="149.84" stroke="#767676" stroke-width="1"/>
<line x1="640.6" y1="149.84" x2="637.9" y2="149.84" stroke="#767676" stroke-width="1"/>
<line x1="506.13" y1="226.1" x2="506.13" y2="223.4" stroke="#767676" stroke-width="1"/>
<line x1="506.13" y1="19.7" x2="506.13" y2="21.32" stroke="#767676" stroke-width="0.9"/>
<line x1="411.5" y1="140.86" x2="414.2" y2="140.86" stroke="#767676" stroke-width="1"/>
<line x1="640.6" y1="140.86" x2="637.9" y2="140.86" stroke="#767676" stroke-width="1"/>
<line x1="516.09" y1="226.1" x2="516.09" y2="223.4" stroke="#767676" stroke-width="1"/>
<line x1="516.09" y1="19.7" x2="516.09" y2="21.32" stroke="#767676" stroke-width="0.9"/>
<line x1="411.5" y1="131.88" x2="414.2" y2="131.88" stroke="#767676" stroke-width="1"/>
<line x1="640.6" y1="131.88" x2="637.9" y2="131.88" stroke="#767676" stroke-width="1"/>
<line x1="526.05" y1="226.1" x2="526.05" y2="220.9" stroke="#767676" stroke-width="1"/>
<line x1="526.05" y1="19.7" x2="526.05" y2="22.82" stroke="#767676" stroke-width="0.9"/>
<line x1="411.5" y1="122.9" x2="416.7" y2="122.9" stroke="#767676" stroke-width="1"/>
<line x1="640.6" y1="122.9" x2="635.4" y2="122.9" stroke="#767676" stroke-width="1"/>
<line x1="536.01" y1="226.1" x2="536.01" y2="223.4" stroke="#767676" stroke-width="1"/>
<line x1="536.01" y1="19.7" x2="536.01" y2="21.32" stroke="#767676" stroke-width="0.9"/>
<line x1="411.5" y1="113.92" x2="414.2" y2="113.92" stroke="#767676" stroke-width="1"/>
<line x1="640.6" y1="113.92" x2="637.9" y2="113.92" stroke="#767676" stroke-width="1"/>
<line x1="545.97" y1="226.1" x2="545.97" y2="223.4" stroke="#767676" stroke-width="1"/>
<line x1="545.97" y1="19.7" x2="545.97" y2="21.32" stroke="#767676" stroke-width="0.9"/>
<line x1="411.5" y1="104.94" x2="414.2" y2="104.94" stroke="#767676" stroke-width="1"/>
<line x1="640.6" y1="104.94" x2="637.9" y2="104.94" stroke="#767676" stroke-width="1"/>
<line x1="555.93" y1="226.1" x2="555.93" y2="223.4" stroke="#767676" stroke-width="1"/>
<line x1="555.93" y1="19.7" x2="555.93" y2="21.32" stroke="#767676" stroke-width="0.9"/>
<line x1="411.5" y1="95.96" x2="414.2" y2="95.96" stroke="#767676" stroke-width="1"/>
<line x1="640.6" y1="95.96" x2="637.9" y2="95.96" stroke="#767676" stroke-width="1"/>
<line x1="565.89" y1="226.1" x2="565.89" y2="223.4" stroke="#767676" stroke-width="1"/>
<line x1="565.89" y1="19.7" x2="565.89" y2="21.32" stroke="#767676" stroke-width="0.9"/>
<line x1="411.5" y1="86.98" x2="414.2" y2="86.98" stroke="#767676" stroke-width="1"/>
<line x1="640.6" y1="86.98" x2="637.9" y2="86.98" stroke="#767676" stroke-width="1"/>
<line x1="575.85" y1="226.1" x2="575.85" y2="220.9" stroke="#767676" stroke-width="1"/>
<line x1="575.85" y1="19.7" x2="575.85" y2="22.82" stroke="#767676" stroke-width="0.9"/>
<line x1="411.5" y1="78" x2="416.7" y2="78" stroke="#767676" stroke-width="1"/>
<line x1="640.6" y1="78" x2="635.4" y2="78" stroke="#767676" stroke-width="1"/>
<line x1="585.81" y1="226.1" x2="585.81" y2="223.4" stroke="#767676" stroke-width="1"/>
<line x1="585.81" y1="19.7" x2="585.81" y2="21.32" stroke="#767676" stroke-width="0.9"/>
<line x1="411.5" y1="69.02" x2="414.2" y2="69.02" stroke="#767676" stroke-width="1"/>
<line x1="640.6" y1="69.02" x2="637.9" y2="69.02" stroke="#767676" stroke-width="1"/>
<line x1="595.77" y1="226.1" x2="595.77" y2="223.4" stroke="#767676" stroke-width="1"/>
<line x1="595.77" y1="19.7" x2="595.77" y2="21.32" stroke="#767676" stroke-width="0.9"/>
<line x1="411.5" y1="60.04" x2="414.2" y2="60.04" stroke="#767676" stroke-width="1"/>
<line x1="640.6" y1="60.04" x2="637.9" y2="60.04" stroke="#767676" stroke-width="1"/>
<line x1="605.73" y1="226.1" x2="605.73" y2="223.4" stroke="#767676" stroke-width="1"/>
<line x1="605.73" y1="19.7" x2="605.73" y2="21.32" stroke="#767676" stroke-width="0.9"/>
<line x1="411.5" y1="51.06" x2="414.2" y2="51.06" stroke="#767676" stroke-width="1"/>
<line x1="640.6" y1="51.06" x2="637.9" y2="51.06" stroke="#767676" stroke-width="1"/>
<line x1="615.69" y1="226.1" x2="615.69" y2="223.4" stroke="#767676" stroke-width="1"/>
<line x1="615.69" y1="19.7" x2="615.69" y2="21.32" stroke="#767676" stroke-width="0.9"/>
<line x1="411.5" y1="42.08" x2="414.2" y2="42.08" stroke="#767676" stroke-width="1"/>
<line x1="640.6" y1="42.08" x2="637.9" y2="42.08" stroke="#767676" stroke-width="1"/>
<line x1="625.65" y1="226.1" x2="625.65" y2="220.9" stroke="#767676" stroke-width="1"/>
<line x1="625.65" y1="19.7" x2="625.65" y2="22.82" stroke="#767676" stroke-width="0.9"/>
<line x1="411.5" y1="33.1" x2="416.7" y2="33.1" stroke="#767676" stroke-width="1"/>
<line x1="640.6" y1="33.1" x2="635.4" y2="33.1" stroke="#767676" stroke-width="1"/>
<line x1="635.61" y1="226.1" x2="635.61" y2="223.4" stroke="#767676" stroke-width="1"/>
<line x1="635.61" y1="19.7" x2="635.61" y2="21.32" stroke="#767676" stroke-width="0.9"/>
<line x1="411.5" y1="24.12" x2="414.2" y2="24.12" stroke="#767676" stroke-width="1"/>
<line x1="640.6" y1="24.12" x2="637.9" y2="24.12" stroke="#767676" stroke-width="1"/>
<text transform="translate(426.95,243.4) scale(1.000,1)" font-size="14.5" text-anchor="middle" font-family='"Liberation Serif", serif'>−<tspan dx="-1.7">10</tspan></text>
<text transform="translate(406.6,217.7) scale(1.000,1)" font-size="14.5" text-anchor="end" font-family='"Liberation Serif", serif'>−<tspan dx="-1.7">10</tspan></text>
<text transform="translate(476.75,243.4) scale(1.000,1)" font-size="14.5" text-anchor="middle" font-family='"Liberation Serif", serif'>−<tspan dx="-1.7">5</tspan></text>
<text transform="translate(406.6,172.8) scale(1.000,1)" font-size="14.5" text-anchor="end" font-family='"Liberation Serif", serif'>−<tspan dx="-1.7">5</tspan></text>
<text transform="translate(526.05,243.4) scale(1.000,1)" font-size="14.5" text-anchor="middle" font-family='"Liberation Serif", serif'>0</text>
<text transform="translate(406.6,127.9) scale(1.000,1)" font-size="14.5" text-anchor="end" font-family='"Liberation Serif", serif'>0</text>
<text transform="translate(575.85,243.4) scale(1.000,1)" font-size="14.5" text-anchor="middle" font-family='"Liberation Serif", serif'>5</text>
<text transform="translate(406.6,83) scale(1.000,1)" font-size="14.5" text-anchor="end" font-family='"Liberation Serif", serif'>5</text>
<text transform="translate(625.65,243.4) scale(1.000,1)" font-size="14.5" text-anchor="middle" font-family='"Liberation Serif", serif'>10</text>
<text transform="translate(406.6,38.1) scale(1.000,1)" font-size="14.5" text-anchor="end" font-family='"Liberation Serif", serif'>10</text>
<text x="526" y="259.3" font-size="14.5" text-anchor="middle" font-family='"Liberation Serif", serif'>X<tspan font-size="9.5" dy="3.4">ann</tspan><tspan dy="-3.4"> [cm]</tspan></text>
<text transform="translate(375.0,122.6) rotate(-90)" font-size="14.5" text-anchor="middle" font-family='"Liberation Serif", serif'>Y<tspan font-size="9.5" dy="3.4">ann</tspan><tspan dy="-3.4"> [cm]</tspan></text>
<text transform="translate(361.9,19.3) scale(1.080,1)" font-size="27" text-anchor="start" font-family='"Liberation Sans", sans-serif' font-weight="bold">b</text>
<rect x="642.1" y="215.59" width="15.6" height="10.71" fill="#6300ff"/>
<rect x="642.1" y="205.29" width="15.6" height="10.71" fill="#3300ff"/>
<rect x="642.1" y="194.99" width="15.6" height="10.71" fill="#0014ff"/>
<rect x="642.1" y="184.68" width="15.6" height="10.71" fill="#0044ff"/>
<rect x="642.1" y="174.38" width="15.6" height="10.71" fill="#008bff"/>
<rect x="642.1" y="164.07" width="15.6" height="10.71" fill="#00bbff"/>
<rect x="642.1" y="153.77" width="15.6" height="10.71" fill="#00fffc"/>
<rect x="642.1" y="143.46" width="15.6" height="10.71" fill="#00ffcc"/>
<rect x="642.1" y="133.16" width="15.6" height="10.71" fill="#00ff85"/>
<rect x="642.1" y="122.85" width="15.6" height="10.71" fill="#00ff55"/>
<rect x="642.1" y="112.55" width="15.6" height="10.71" fill="#00ff0e"/>
<rect x="642.1" y="102.24" width="15.6" height="10.71" fill="#22ff00"/>
<rect x="642.1" y="91.93" width="15.6" height="10.71" fill="#69ff00"/>
<rect x="642.1" y="81.63" width="15.6" height="10.71" fill="#99ff00"/>
<rect x="642.1" y="71.33" width="15.6" height="10.71" fill="#e0ff00"/>
<rect x="642.1" y="61.02" width="15.6" height="10.71" fill="#ffee00"/>
<rect x="642.1" y="50.71" width="15.6" height="10.71" fill="#ffa700"/>
<rect x="642.1" y="40.41" width="15.6" height="10.71" fill="#ff7700"/>
<rect x="642.1" y="30.11" width="15.6" height="10.71" fill="#ff3000"/>
<rect x="642.1" y="19.8" width="15.6" height="10.71" fill="#ff0000"/>
<line x1="657.7" y1="226.1" x2="651.7" y2="226.1" stroke="#000" stroke-width="1"/>
<line x1="657.7" y1="216.04" x2="654.7" y2="216.04" stroke="#000" stroke-width="0.8"/>
<line x1="657.7" y1="210.15" x2="654.7" y2="210.15" stroke="#000" stroke-width="0.8"/>
<line x1="657.7" y1="205.98" x2="654.7" y2="205.98" stroke="#000" stroke-width="0.8"/>
<line x1="657.7" y1="202.74" x2="654.7" y2="202.74" stroke="#000" stroke-width="0.8"/>
<line x1="657.7" y1="200.09" x2="654.7" y2="200.09" stroke="#000" stroke-width="0.8"/>
<line x1="657.7" y1="197.86" x2="654.7" y2="197.86" stroke="#000" stroke-width="0.8"/>
<line x1="657.7" y1="195.92" x2="654.7" y2="195.92" stroke="#000" stroke-width="0.8"/>
<line x1="657.7" y1="194.21" x2="654.7" y2="194.21" stroke="#000" stroke-width="0.8"/>
<text transform="translate(667.6,232.8) scale(0.920,1)" font-size="14.5" text-anchor="start" font-family='"Liberation Serif", serif'>1</text>
<line x1="657.7" y1="192.68" x2="651.7" y2="192.68" stroke="#000" stroke-width="1"/>
<line x1="657.7" y1="182.62" x2="654.7" y2="182.62" stroke="#000" stroke-width="0.8"/>
<line x1="657.7" y1="176.73" x2="654.7" y2="176.73" stroke="#000" stroke-width="0.8"/>
<line x1="657.7" y1="172.56" x2="654.7" y2="172.56" stroke="#000" stroke-width="0.8"/>
<line x1="657.7" y1="169.32" x2="654.7" y2="169.32" stroke="#000" stroke-width="0.8"/>
<line x1="657.7" y1="166.67" x2="654.7" y2="166.67" stroke="#000" stroke-width="0.8"/>
<line x1="657.7" y1="164.44" x2="654.7" y2="164.44" stroke="#000" stroke-width="0.8"/>
<line x1="657.7" y1="162.5" x2="654.7" y2="162.5" stroke="#000" stroke-width="0.8"/>
<line x1="657.7" y1="160.79" x2="654.7" y2="160.79" stroke="#000" stroke-width="0.8"/>
<text transform="translate(667.6,199.38) scale(0.920,1)" font-size="14.5" text-anchor="start" font-family='"Liberation Serif", serif'>10</text>
<line x1="657.7" y1="159.26" x2="651.7" y2="159.26" stroke="#000" stroke-width="1"/>
<line x1="657.7" y1="149.2" x2="654.7" y2="149.2" stroke="#000" stroke-width="0.8"/>
<line x1="657.7" y1="143.31" x2="654.7" y2="143.31" stroke="#000" stroke-width="0.8"/>
<line x1="657.7" y1="139.14" x2="654.7" y2="139.14" stroke="#000" stroke-width="0.8"/>
<line x1="657.7" y1="135.9" x2="654.7" y2="135.9" stroke="#000" stroke-width="0.8"/>
<line x1="657.7" y1="133.25" x2="654.7" y2="133.25" stroke="#000" stroke-width="0.8"/>
<line x1="657.7" y1="131.02" x2="654.7" y2="131.02" stroke="#000" stroke-width="0.8"/>
<line x1="657.7" y1="129.08" x2="654.7" y2="129.08" stroke="#000" stroke-width="0.8"/>
<line x1="657.7" y1="127.37" x2="654.7" y2="127.37" stroke="#000" stroke-width="0.8"/>
<text transform="translate(667.6,165.96) scale(0.920,1)" font-size="14.5" text-anchor="start" font-family='"Liberation Serif", serif'>10<tspan font-size="9.5" dy="-5.8">2</tspan></text>
<line x1="657.7" y1="125.84" x2="651.7" y2="125.84" stroke="#000" stroke-width="1"/>
<line x1="657.7" y1="115.78" x2="654.7" y2="115.78" stroke="#000" stroke-width="0.8"/>
<line x1="657.7" y1="109.89" x2="654.7" y2="109.89" stroke="#000" stroke-width="0.8"/>
<line x1="657.7" y1="105.72" x2="654.7" y2="105.72" stroke="#000" stroke-width="0.8"/>
<line x1="657.7" y1="102.48" x2="654.7" y2="102.48" stroke="#000" stroke-width="0.8"/>
<line x1="657.7" y1="99.83" x2="654.7" y2="99.83" stroke="#000" stroke-width="0.8"/>
<line x1="657.7" y1="97.6" x2="654.7" y2="97.6" stroke="#000" stroke-width="0.8"/>
<line x1="657.7" y1="95.66" x2="654.7" y2="95.66" stroke="#000" stroke-width="0.8"/>
<line x1="657.7" y1="93.95" x2="654.7" y2="93.95" stroke="#000" stroke-width="0.8"/>
<text transform="translate(667.6,132.54) scale(0.920,1)" font-size="14.5" text-anchor="start" font-family='"Liberation Serif", serif'>10<tspan font-size="9.5" dy="-5.8">3</tspan></text>
<line x1="657.7" y1="92.42" x2="651.7" y2="92.42" stroke="#000" stroke-width="1"/>
<line x1="657.7" y1="82.36" x2="654.7" y2="82.36" stroke="#000" stroke-width="0.8"/>
<line x1="657.7" y1="76.47" x2="654.7" y2="76.47" stroke="#000" stroke-width="0.8"/>
<line x1="657.7" y1="72.3" x2="654.7" y2="72.3" stroke="#000" stroke-width="0.8"/>
<line x1="657.7" y1="69.06" x2="654.7" y2="69.06" stroke="#000" stroke-width="0.8"/>
<line x1="657.7" y1="66.41" x2="654.7" y2="66.41" stroke="#000" stroke-width="0.8"/>
<line x1="657.7" y1="64.18" x2="654.7" y2="64.18" stroke="#000" stroke-width="0.8"/>
<line x1="657.7" y1="62.24" x2="654.7" y2="62.24" stroke="#000" stroke-width="0.8"/>
<line x1="657.7" y1="60.53" x2="654.7" y2="60.53" stroke="#000" stroke-width="0.8"/>
<text transform="translate(667.6,99.12) scale(0.920,1)" font-size="14.5" text-anchor="start" font-family='"Liberation Serif", serif'>10<tspan font-size="9.5" dy="-5.8">4</tspan></text>
<line x1="657.7" y1="59" x2="651.7" y2="59" stroke="#000" stroke-width="1"/>
<line x1="657.7" y1="48.94" x2="654.7" y2="48.94" stroke="#000" stroke-width="0.8"/>
<line x1="657.7" y1="43.05" x2="654.7" y2="43.05" stroke="#000" stroke-width="0.8"/>
<line x1="657.7" y1="38.88" x2="654.7" y2="38.88" stroke="#000" stroke-width="0.8"/>
<line x1="657.7" y1="35.64" x2="654.7" y2="35.64" stroke="#000" stroke-width="0.8"/>
<line x1="657.7" y1="32.99" x2="654.7" y2="32.99" stroke="#000" stroke-width="0.8"/>
<line x1="657.7" y1="30.76" x2="654.7" y2="30.76" stroke="#000" stroke-width="0.8"/>
<line x1="657.7" y1="28.82" x2="654.7" y2="28.82" stroke="#000" stroke-width="0.8"/>
<line x1="657.7" y1="27.11" x2="654.7" y2="27.11" stroke="#000" stroke-width="0.8"/>
<text transform="translate(667.6,65.7) scale(0.920,1)" font-size="14.5" text-anchor="start" font-family='"Liberation Serif", serif'>10<tspan font-size="9.5" dy="-5.8">5</tspan></text>
<line x1="657.7" y1="25.58" x2="651.7" y2="25.58" stroke="#000" stroke-width="1"/>
<text transform="translate(667.6,32.28) scale(0.920,1)" font-size="14.5" text-anchor="start" font-family='"Liberation Serif", serif'>10<tspan font-size="9.5" dy="-5.8">6</tspan></text>
<line x1="657.7" y1="20" x2="657.7" y2="226.1" stroke="#000" stroke-width="0.8" opacity="0.35"/>
</g>
</svg></body></html>
